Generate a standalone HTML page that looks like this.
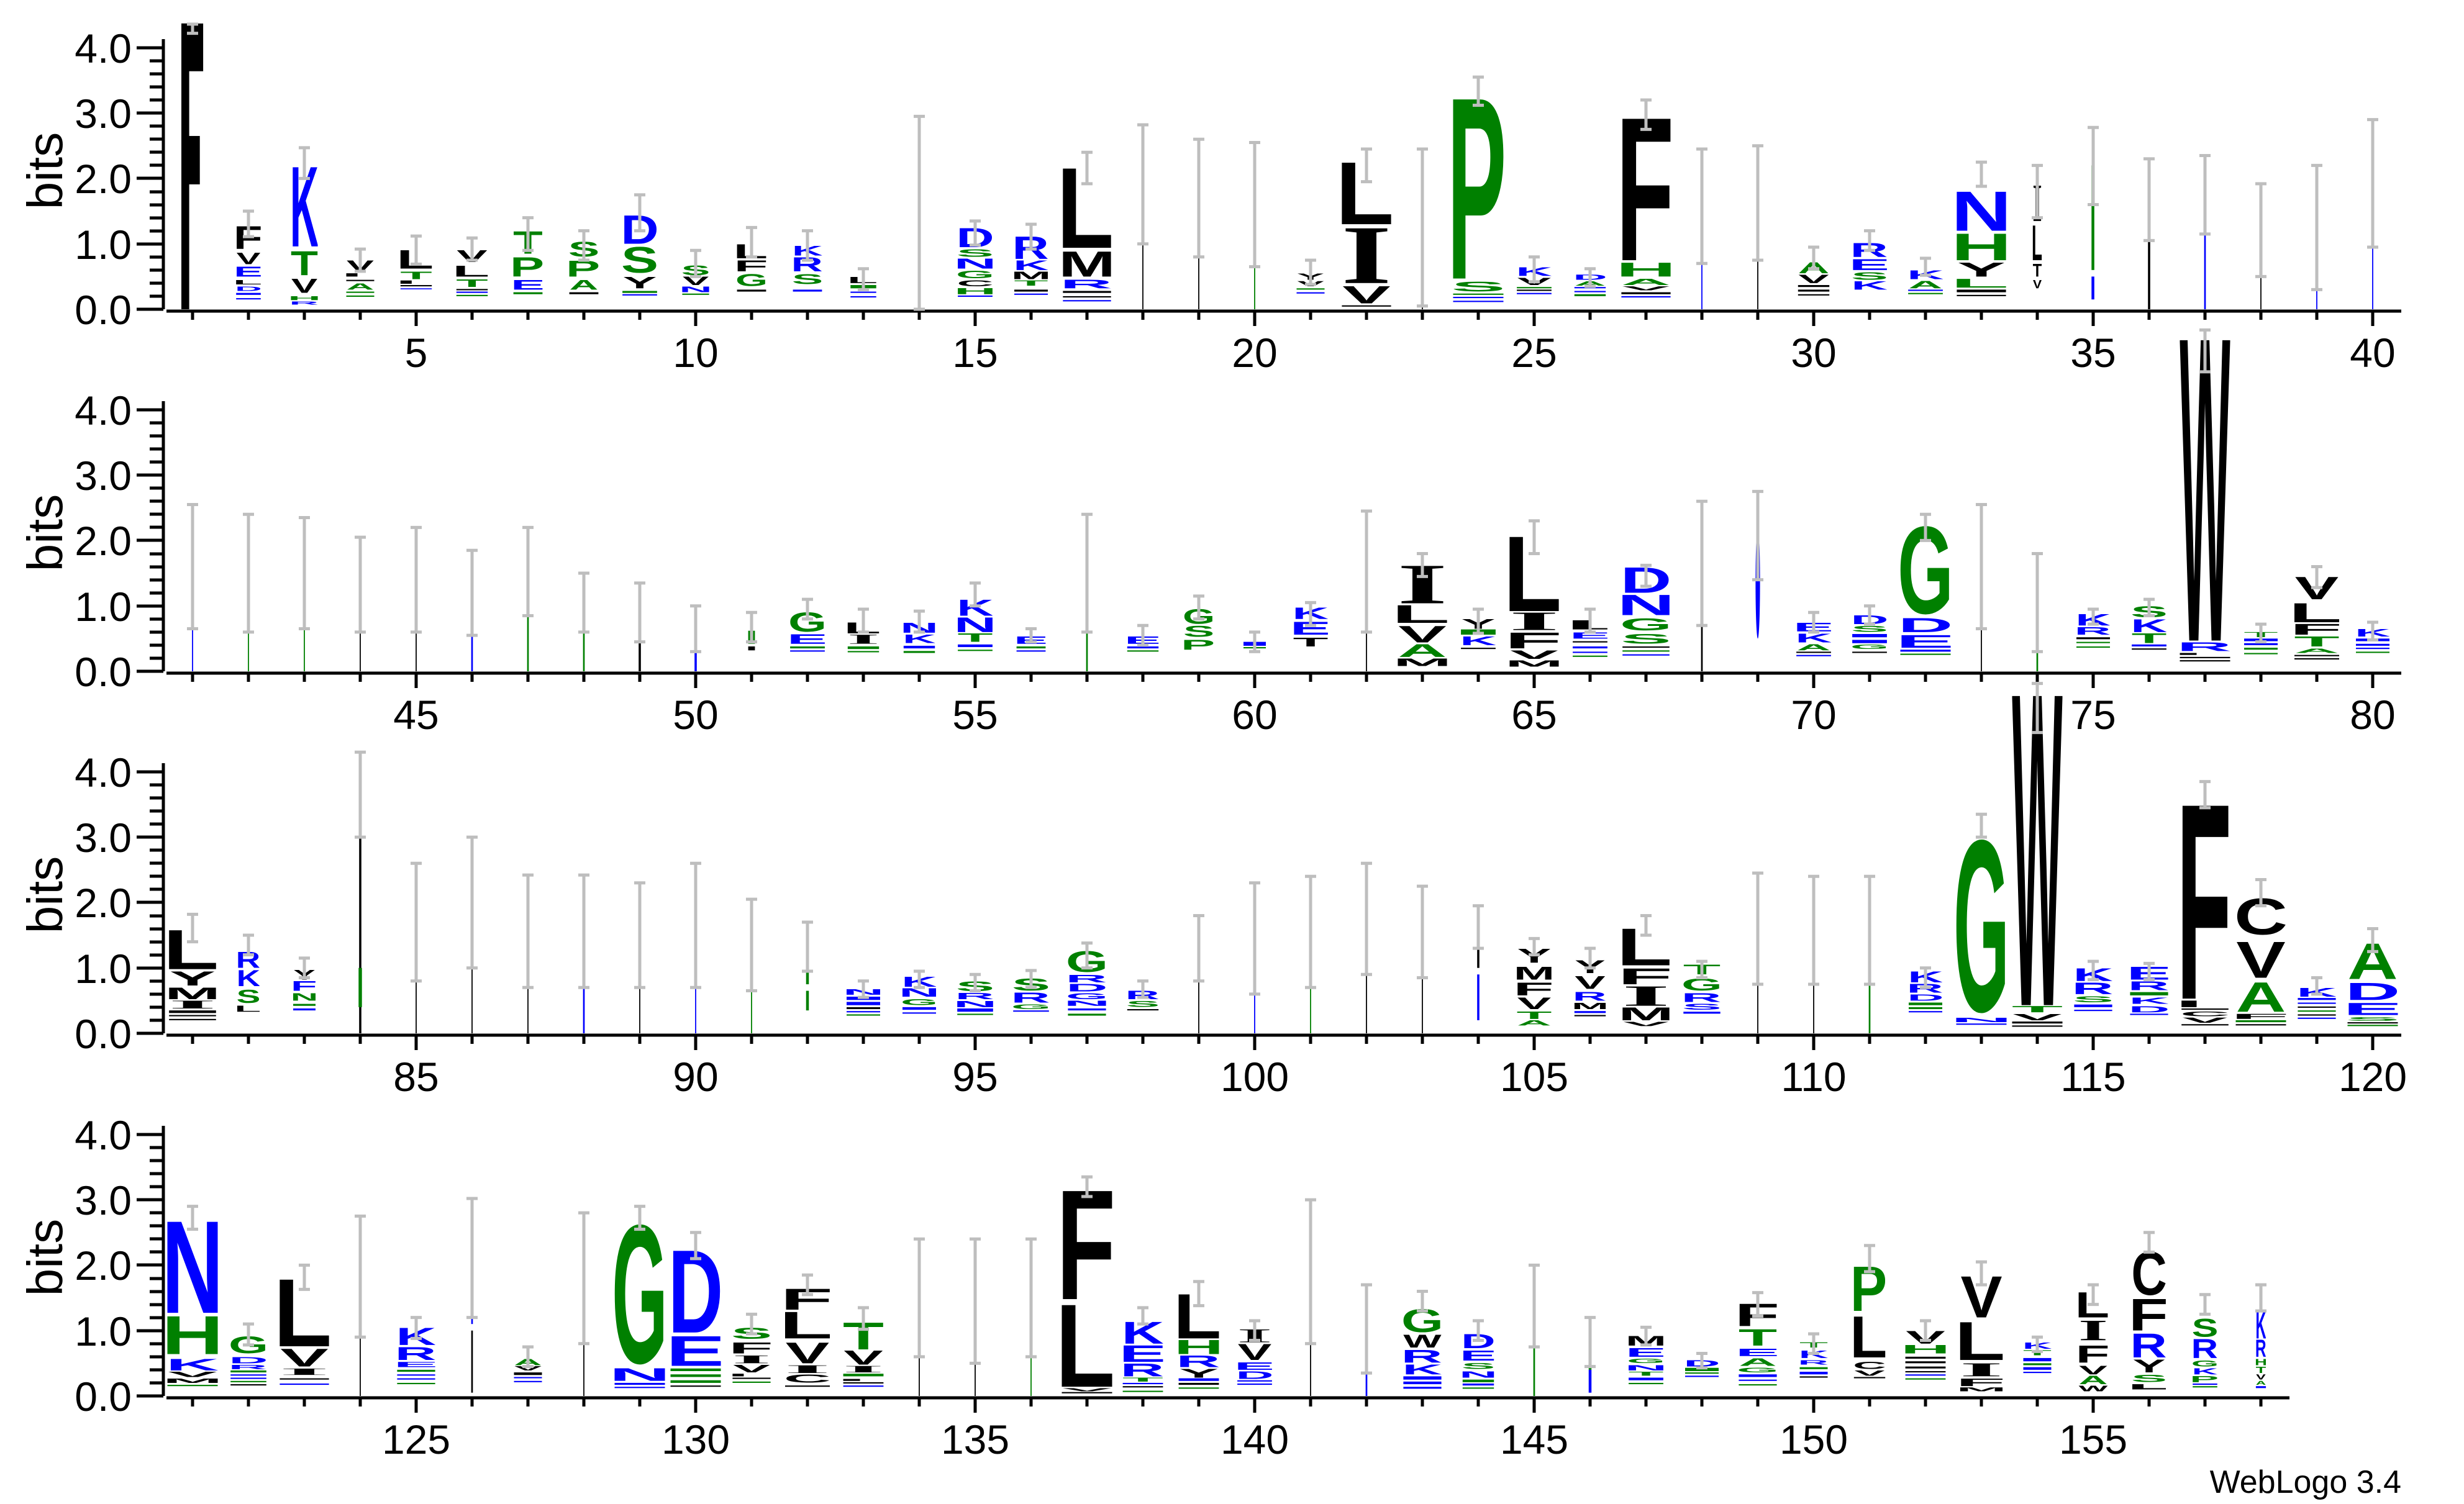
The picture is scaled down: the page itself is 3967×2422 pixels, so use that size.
<!DOCTYPE html>
<html><head><meta charset="utf-8"><style>
html,body{margin:0;padding:0;background:#fff}
svg text{font-family:"Liberation Sans",Arial,sans-serif;font-weight:bold;font-size:100px;text-anchor:middle}
.b{fill:#0000ff}.g{fill:#008000}.k{fill:#000}
text.s{font-family:"Liberation Serif",serif}
.e{stroke:#bebebe;stroke-width:5;fill:none;vector-effect:non-scaling-stroke}
.ax{stroke:#000;stroke-width:5;fill:none}
.tl{font-family:"Liberation Sans",Arial,sans-serif;font-weight:normal;font-size:66px;fill:#000}
</style></head><body>
<svg width="3967" height="2417" viewBox="0 0 3967 2417" xmlns="http://www.w3.org/2000/svg">
<rect width="3967" height="2417" fill="#fff"/>

<!-- ===== AXES ===== -->
<g class="ax">
<!-- row1 -->
<path d="M263 63V498M220 498H263M220 393H263M220 287H263M220 182H263M220 77H263M241 477H263M241 456H263M241 435H263M241 414H263M241 372H263M241 351H263M241 330H263M241 309H263M241 266H263M241 245H263M241 224H263M241 203H263M241 161H263M241 140H263M241 119H263M241 98H263"/>
<path d="M268 501H3866"/>
<!-- row2 -->
<path d="M263 646V1081M220 1081H263M220 976H263M220 870H263M220 765H263M220 660H263M241 1060H263M241 1039H263M241 1018H263M241 997H263M241 955H263M241 934H263M241 913H263M241 892H263M241 849H263M241 828H263M241 807H263M241 786H263M241 744H263M241 723H263M241 702H263M241 681H263"/>
<path d="M268 1084H3866"/>
<!-- row3 -->
<path d="M263 1229V1664M220 1664H263M220 1559H263M220 1453H263M220 1348H263M220 1243H263M241 1643H263M241 1622H263M241 1601H263M241 1580H263M241 1538H263M241 1517H263M241 1496H263M241 1475H263M241 1432H263M241 1411H263M241 1390H263M241 1369H263M241 1327H263M241 1306H263M241 1285H263M241 1264H263"/>
<path d="M268 1667H3866"/>
<!-- row4 -->
<path d="M263 1813V2248M220 2248H263M220 2143H263M220 2037H263M220 1932H263M220 1827H263M241 2227H263M241 2206H263M241 2185H263M241 2164H263M241 2122H263M241 2101H263M241 2080H263M241 2059H263M241 2016H263M241 1995H263M241 1974H263M241 1953H263M241 1911H263M241 1890H263M241 1869H263M241 1848H263"/>
<path d="M268 2251H3686"/>
</g>
<!-- x ticks -->
<g class="ax" style="stroke-width:5">
<path d="M310 501v14M400 501v14M490 501v14M580 501v14M670 501v24M760 501v14M850 501v14M940 501v14M1030 501v14M1120 501v24M1210 501v14M1300 501v14M1390 501v14M1480 501v14M1570 501v24M1660 501v14M1750 501v14M1840 501v14M1930 501v14M2020 501v24M2110 501v14M2200 501v14M2290 501v14M2380 501v14M2470 501v24M2560 501v14M2650 501v14M2740 501v14M2830 501v14M2920 501v24M3010 501v14M3100 501v14M3190 501v14M3280 501v14M3370 501v24M3460 501v14M3550 501v14M3640 501v14M3730 501v14M3820 501v24"/>
<path d="M310 1084v14M400 1084v14M490 1084v14M580 1084v14M670 1084v24M760 1084v14M850 1084v14M940 1084v14M1030 1084v14M1120 1084v24M1210 1084v14M1300 1084v14M1390 1084v14M1480 1084v14M1570 1084v24M1660 1084v14M1750 1084v14M1840 1084v14M1930 1084v14M2020 1084v24M2110 1084v14M2200 1084v14M2290 1084v14M2380 1084v14M2470 1084v24M2560 1084v14M2650 1084v14M2740 1084v14M2830 1084v14M2920 1084v24M3010 1084v14M3100 1084v14M3190 1084v14M3280 1084v14M3370 1084v24M3460 1084v14M3550 1084v14M3640 1084v14M3730 1084v14M3820 1084v24"/>
<path d="M310 1667v14M400 1667v14M490 1667v14M580 1667v14M670 1667v24M760 1667v14M850 1667v14M940 1667v14M1030 1667v14M1120 1667v24M1210 1667v14M1300 1667v14M1390 1667v14M1480 1667v14M1570 1667v24M1660 1667v14M1750 1667v14M1840 1667v14M1930 1667v14M2020 1667v24M2110 1667v14M2200 1667v14M2290 1667v14M2380 1667v14M2470 1667v24M2560 1667v14M2650 1667v14M2740 1667v14M2830 1667v14M2920 1667v24M3010 1667v14M3100 1667v14M3190 1667v14M3280 1667v14M3370 1667v24M3460 1667v14M3550 1667v14M3640 1667v14M3730 1667v14M3820 1667v24"/>
<path d="M310 2251v14M400 2251v14M490 2251v14M580 2251v14M670 2251v24M760 2251v14M850 2251v14M940 2251v14M1030 2251v14M1120 2251v24M1210 2251v14M1300 2251v14M1390 2251v14M1480 2251v14M1570 2251v24M1660 2251v14M1750 2251v14M1840 2251v14M1930 2251v14M2020 2251v24M2110 2251v14M2200 2251v14M2290 2251v14M2380 2251v14M2470 2251v24M2560 2251v14M2650 2251v14M2740 2251v14M2830 2251v14M2920 2251v24M3010 2251v14M3100 2251v14M3190 2251v14M3280 2251v14M3370 2251v24M3460 2251v14M3550 2251v14M3640 2251v14"/>
</g>

<!-- y labels -->
<g class="tl" style="text-anchor:end">
<text x="212" y="522" style="text-anchor:end;font-weight:normal;font-size:66px">0.0</text><text x="212" y="417" style="text-anchor:end;font-weight:normal;font-size:66px">1.0</text><text x="212" y="311" style="text-anchor:end;font-weight:normal;font-size:66px">2.0</text><text x="212" y="206" style="text-anchor:end;font-weight:normal;font-size:66px">3.0</text><text x="212" y="101" style="text-anchor:end;font-weight:normal;font-size:66px">4.0</text>
<text x="212" y="1105" style="text-anchor:end;font-weight:normal;font-size:66px">0.0</text><text x="212" y="1000" style="text-anchor:end;font-weight:normal;font-size:66px">1.0</text><text x="212" y="894" style="text-anchor:end;font-weight:normal;font-size:66px">2.0</text><text x="212" y="789" style="text-anchor:end;font-weight:normal;font-size:66px">3.0</text><text x="212" y="684" style="text-anchor:end;font-weight:normal;font-size:66px">4.0</text>
<text x="212" y="1688" style="text-anchor:end;font-weight:normal;font-size:66px">0.0</text><text x="212" y="1583" style="text-anchor:end;font-weight:normal;font-size:66px">1.0</text><text x="212" y="1477" style="text-anchor:end;font-weight:normal;font-size:66px">2.0</text><text x="212" y="1372" style="text-anchor:end;font-weight:normal;font-size:66px">3.0</text><text x="212" y="1267" style="text-anchor:end;font-weight:normal;font-size:66px">4.0</text>
<text x="212" y="2272" style="text-anchor:end;font-weight:normal;font-size:66px">0.0</text><text x="212" y="2167" style="text-anchor:end;font-weight:normal;font-size:66px">1.0</text><text x="212" y="2061" style="text-anchor:end;font-weight:normal;font-size:66px">2.0</text><text x="212" y="1956" style="text-anchor:end;font-weight:normal;font-size:66px">3.0</text><text x="212" y="1851" style="text-anchor:end;font-weight:normal;font-size:66px">4.0</text>
</g>
<!-- bits -->
<g style="font-weight:normal;font-size:80px">
<text transform="translate(100,275) rotate(-90)" style="font-weight:normal;font-size:80px">bits</text>
<text transform="translate(100,858) rotate(-90)" style="font-weight:normal;font-size:80px">bits</text>
<text transform="translate(100,1441) rotate(-90)" style="font-weight:normal;font-size:80px">bits</text>
<text transform="translate(100,2025) rotate(-90)" style="font-weight:normal;font-size:80px">bits</text>
</g>
<!-- x labels -->
<g style="font-weight:normal;font-size:66px">
<text x="670" y="591" style="font-weight:normal;font-size:66px">5</text><text x="1120" y="591" style="font-weight:normal;font-size:66px">10</text><text x="1570" y="591" style="font-weight:normal;font-size:66px">15</text><text x="2020" y="591" style="font-weight:normal;font-size:66px">20</text><text x="2470" y="591" style="font-weight:normal;font-size:66px">25</text><text x="2920" y="591" style="font-weight:normal;font-size:66px">30</text><text x="3370" y="591" style="font-weight:normal;font-size:66px">35</text><text x="3820" y="591" style="font-weight:normal;font-size:66px">40</text>
<text x="670" y="1174" style="font-weight:normal;font-size:66px">45</text><text x="1120" y="1174" style="font-weight:normal;font-size:66px">50</text><text x="1570" y="1174" style="font-weight:normal;font-size:66px">55</text><text x="2020" y="1174" style="font-weight:normal;font-size:66px">60</text><text x="2470" y="1174" style="font-weight:normal;font-size:66px">65</text><text x="2920" y="1174" style="font-weight:normal;font-size:66px">70</text><text x="3370" y="1174" style="font-weight:normal;font-size:66px">75</text><text x="3820" y="1174" style="font-weight:normal;font-size:66px">80</text>
<text x="670" y="1757" style="font-weight:normal;font-size:66px">85</text><text x="1120" y="1757" style="font-weight:normal;font-size:66px">90</text><text x="1570" y="1757" style="font-weight:normal;font-size:66px">95</text><text x="2020" y="1757" style="font-weight:normal;font-size:66px">100</text><text x="2470" y="1757" style="font-weight:normal;font-size:66px">105</text><text x="2920" y="1757" style="font-weight:normal;font-size:66px">110</text><text x="3370" y="1757" style="font-weight:normal;font-size:66px">115</text><text x="3820" y="1757" style="font-weight:normal;font-size:66px">120</text>
<text x="670" y="2341" style="font-weight:normal;font-size:66px">125</text><text x="1120" y="2341" style="font-weight:normal;font-size:66px">130</text><text x="1570" y="2341" style="font-weight:normal;font-size:66px">135</text><text x="2020" y="2341" style="font-weight:normal;font-size:66px">140</text><text x="2470" y="2341" style="font-weight:normal;font-size:66px">145</text><text x="2920" y="2341" style="font-weight:normal;font-size:66px">150</text><text x="3370" y="2341" style="font-weight:normal;font-size:66px">155</text>
</g>
<text x="3866" y="2404" style="text-anchor:end;font-weight:normal;font-size:52px">WebLogo 3.4</text>

<!-- ===== ROW 1 ===== -->
<g transform="translate(310,498) scale(90,105.3)">
<g transform="translate(0)"><rect class="k" x="-.2" y="-4.37" width=".39" height=".73"/><rect class="k" x="-.2" y="-2.65" width=".33" height=".74"/><rect class="k" x="-.2" y="-4.37" width=".14" height="4.37"/><path class="e" d="M-.1 -4.36H.1M0 -4.36V-4.22M-.1 -4.22H.1"/></g>
<g transform="translate(1)">
<svg x="-.22" y="-1.28" width=".44" height=".36" viewBox="-25 -71.6 52 71.6" preserveAspectRatio="none"><text class="k">F</text></svg>
<svg x="-.22" y="-.87" width=".44" height=".18" viewBox="-34 -71.6 68 71.6" preserveAspectRatio="none"><text class="k">V</text></svg>
<svg x="-.22" y="-.66" width=".44" height=".16" viewBox="-28 -71.6 56 71.6" preserveAspectRatio="none"><text class="b">E</text></svg>
<svg x="-.22" y="-.45" width=".44" height=".07" viewBox="-23 -71.6 50 71.6" preserveAspectRatio="none"><text class="k">L</text></svg>
<svg x="-.22" y="-.35" width=".44" height=".07" viewBox="-33 -71.6 66 71.6" preserveAspectRatio="none"><text class="b">D</text></svg>
<rect class="b" x="-.22" y="-.25" width=".44" height=".03"/><rect class="b" x="-.22" y="-.17" width=".44" height=".02"/>
<path class="e" d="M-.1 -1.5H.1M0 -1.5V-1.11M-.1 -1.11H.1"/></g>
<g transform="translate(2)">
<svg x="-.24" y="-2.22" width=".48" height="1.26" viewBox="-34 -71.6 68 71.6" preserveAspectRatio="none"><text class="b">K</text></svg>
<svg x="-.24" y="-.9" width=".48" height=".38" viewBox="-30 -71.6 60 71.6" preserveAspectRatio="none"><text class="g">T</text></svg>
<svg x="-.24" y="-.47" width=".48" height=".22" viewBox="-34 -71.6 68 71.6" preserveAspectRatio="none"><text class="k">V</text></svg>
<svg x="-.24" y="-.2" width=".48" height=".06" viewBox="-29 -71.6 58 71.6" preserveAspectRatio="none"><text class="g">H</text></svg>
<svg x="-.24" y="-.12" width=".48" height=".05" viewBox="-32 -71.6 66 71.6" preserveAspectRatio="none"><text class="b">R</text></svg>
<path class="e" d="M-.1 -2.47H.1M0 -2.47V-2.0M-.1 -2.0H.1"/></g>
<g transform="translate(3)">
<svg x="-.25" y="-.75" width=".5" height=".17" viewBox="-34 -71.6 68 71.6" preserveAspectRatio="none"><text class="k">V</text></svg>
<rect class="k" x="-.25" y="-.55" width=".2" height=".05"/><rect class="k" x="-.25" y="-.45" width=".5" height=".02"/>
<svg x="-.25" y="-.4" width=".5" height=".1" viewBox="-36 -71.6 72 71.6" preserveAspectRatio="none"><text class="g">A</text></svg>
<rect class="g" x="-.25" y="-.27" width=".5" height=".02"/><rect class="g" x="-.25" y="-.21" width=".5" height=".02"/>
<path class="e" d="M-.1 -.92H.1M0 -.92V-.58M-.1 -.58H.1"/></g>
<g transform="translate(4)">
<svg x="-.28" y="-.91" width=".56" height=".29" viewBox="-23 -71.6 50 71.6" preserveAspectRatio="none"><text class="k">L</text></svg>
<svg x="-.28" y="-.58" width=".56" height=".12" viewBox="-30 -71.6 60 71.6" preserveAspectRatio="none"><text class="g">T</text></svg>
<rect class="k" x="-.28" y="-.44" width=".2" height=".05"/><rect class="k" x="-.28" y="-.37" width=".56" height=".02"/><rect class="b" x="-.28" y="-.32" width=".56" height=".015"/>
<path class="e" d="M-.1 -1.12H.1M0 -1.12V-.69M-.1 -.69H.1"/></g>
<g transform="translate(5)">
<svg x="-.28" y="-.91" width=".56" height=".19" viewBox="-34 -71.6 68 71.6" preserveAspectRatio="none"><text class="k">V</text></svg>
<svg x="-.28" y="-.67" width=".56" height=".17" viewBox="-23 -71.6 50 71.6" preserveAspectRatio="none"><text class="k">L</text></svg>
<svg x="-.28" y="-.46" width=".56" height=".12" viewBox="-30 -71.6 60 71.6" preserveAspectRatio="none"><text class="g">T</text></svg>
<rect class="k" x="-.28" y="-.31" width=".56" height=".02"/><rect class="b" x="-.28" y="-.27" width=".56" height=".02"/><rect class="g" x="-.28" y="-.22" width=".56" height=".02"/>
<path class="e" d="M-.1 -1.09H.1M0 -1.09V-.75M-.1 -.75H.1"/></g>
<g transform="translate(6)">
<svg x="-.26" y="-1.2" width=".52" height=".35" viewBox="-30 -71.6 60 71.6" preserveAspectRatio="none"><text class="g">T</text></svg>
<svg x="-.26" y="-.8" width=".52" height=".3" viewBox="-26 -71.6 56 71.6" preserveAspectRatio="none"><text class="g">P</text></svg>
<svg x="-.26" y="-.45" width=".52" height=".15" viewBox="-28 -71.6 56 71.6" preserveAspectRatio="none"><text class="b">E</text></svg>
<rect class="g" x="-.26" y="-.26" width=".52" height=".03"/>
<path class="e" d="M-.1 -1.4H.1M0 -1.4V-.9M-.1 -.9H.1"/></g>
<g transform="translate(7)">
<svg x="-.26" y="-1.05" width=".52" height=".25" viewBox="-31 -74 62 76" preserveAspectRatio="none"><text class="g">S</text></svg>
<svg x="-.26" y="-.75" width=".52" height=".25" viewBox="-26 -71.6 56 71.6" preserveAspectRatio="none"><text class="g">P</text></svg>
<svg x="-.26" y="-.45" width=".52" height=".15" viewBox="-36 -71.6 72 71.6" preserveAspectRatio="none"><text class="g">A</text></svg>
<rect class="k" x="-.26" y="-.26" width=".52" height=".03"/>
<path class="e" d="M-.1 -1.2H.1M0 -1.2V-.75M-.1 -.75H.1"/></g>
<g transform="translate(8)">
<svg x="-.31" y="-1.45" width=".62" height=".45" viewBox="-33 -71.6 66 71.6" preserveAspectRatio="none"><text class="b">D</text></svg>
<svg x="-.31" y="-.98" width=".62" height=".43" viewBox="-31 -74 62 76" preserveAspectRatio="none"><text class="g">S</text></svg>
<svg x="-.31" y="-.5" width=".62" height=".18" viewBox="-34 -71.6 68 71.6" preserveAspectRatio="none"><text class="k">Y</text></svg>
<rect class="g" x="-.31" y="-.28" width=".62" height=".03"/><rect class="b" x="-.31" y="-.23" width=".62" height=".02"/>
<path class="e" d="M-.1 -1.75H.1M0 -1.75V-1.2M-.1 -1.2H.1"/></g>
<g transform="translate(9)">
<svg x="-.24" y="-.68" width=".48" height=".16" viewBox="-31 -74 62 76" preserveAspectRatio="none"><text class="g">S</text></svg>
<svg x="-.24" y="-.5" width=".48" height=".13" viewBox="-34 -71.6 68 71.6" preserveAspectRatio="none"><text class="k">V</text></svg>
<svg x="-.24" y="-.35" width=".48" height=".09" viewBox="-29 -71.6 58 71.6" preserveAspectRatio="none"><text class="b">N</text></svg>
<rect class="g" x="-.24" y="-.24" width=".48" height=".02"/>
<path class="e" d="M-.1 -.9H.1M0 -.9V-.5M-.1 -.5H.1"/></g>
<g transform="translate(10)">
<svg x="-.26" y="-1.0" width=".52" height=".22" viewBox="-23 -71.6 50 71.6" preserveAspectRatio="none"><text class="k">L</text></svg>
<svg x="-.26" y="-.75" width=".52" height=".17" viewBox="-25 -71.6 52 71.6" preserveAspectRatio="none"><text class="k">F</text></svg>
<svg x="-.26" y="-.55" width=".52" height=".2" viewBox="-35 -74 70 76" preserveAspectRatio="none"><text class="g">G</text></svg>
<rect class="k" x="-.26" y="-.3" width=".52" height=".03"/>
<path class="e" d="M-.1 -1.25H.1M0 -1.25V-.8M-.1 -.8H.1"/></g>
<g transform="translate(11)">
<svg x="-.26" y="-.97" width=".52" height=".15" viewBox="-34 -71.6 68 71.6" preserveAspectRatio="none"><text class="b">K</text></svg>
<svg x="-.26" y="-.8" width=".52" height=".22" viewBox="-32 -71.6 66 71.6" preserveAspectRatio="none"><text class="b">R</text></svg>
<svg x="-.26" y="-.55" width=".52" height=".17" viewBox="-31 -74 62 76" preserveAspectRatio="none"><text class="g">S</text></svg>
<rect class="b" x="-.26" y="-.3" width=".52" height=".03"/>
<path class="e" d="M-.1 -1.2H.1M0 -1.2V-.75M-.1 -.75H.1"/></g>
<g transform="translate(12)">
<svg x="-.23" y="-.5" width=".46" height=".1" viewBox="-23 -71.6 50 71.6" preserveAspectRatio="none"><text class="k">L</text></svg>
<rect class="g" x="-.23" y="-.37" width=".46" height=".05"/><rect class="b" x="-.23" y="-.27" width=".46" height=".02"/><rect class="b" x="-.23" y="-.2" width=".46" height=".02"/>
<path class="e" d="M-.1 -.62H.1M0 -.62V-.3M-.1 -.3H.1"/></g>
<g transform="translate(13)"><rect class="b" x="-.02" y="-1.45" width=".03" height="1.45"/><path class="e" d="M-.1 -2.95H.1M0 -2.95V0M-.1 0H.1"/></g>
<g transform="translate(14)">
<svg x="-.31" y="-1.25" width=".62" height=".3" viewBox="-33 -71.6 66 71.6" preserveAspectRatio="none"><text class="b">D</text></svg>
<svg x="-.31" y="-.93" width=".62" height=".13" viewBox="-31 -74 62 76" preserveAspectRatio="none"><text class="g">S</text></svg>
<svg x="-.31" y="-.78" width=".62" height=".16" viewBox="-29 -71.6 58 71.6" preserveAspectRatio="none"><text class="b">N</text></svg>
<svg x="-.31" y="-.6" width=".62" height=".13" viewBox="-35 -74 70 76" preserveAspectRatio="none"><text class="g">G</text></svg>
<svg x="-.31" y="-.45" width=".62" height=".1" viewBox="-34 -74 68 76" preserveAspectRatio="none"><text class="k">C</text></svg>
<svg x="-.31" y="-.33" width=".62" height=".1" viewBox="-29 -71.6 58 71.6" preserveAspectRatio="none"><text class="g">H</text></svg>
<rect class="b" x="-.31" y="-.21" width=".62" height=".02"/>
<path class="e" d="M-.1 -1.35H.1M0 -1.35V-.98M-.1 -.98H.1"/></g>
<g transform="translate(15)">
<svg x="-.3" y="-1.12" width=".6" height=".35" viewBox="-32 -71.6 66 71.6" preserveAspectRatio="none"><text class="b">R</text></svg>
<svg x="-.3" y="-.75" width=".6" height=".15" viewBox="-34 -71.6 68 71.6" preserveAspectRatio="none"><text class="b">K</text></svg>
<svg x="-.3" y="-.58" width=".6" height=".12" viewBox="-35 -71.6 70 71.6" preserveAspectRatio="none"><text class="k">M</text></svg>
<svg x="-.3" y="-.44" width=".6" height=".08" viewBox="-30 -71.6 60 71.6" preserveAspectRatio="none"><text class="g">T</text></svg>
<rect class="k" x="-.3" y="-.3" width=".6" height=".03"/><rect class="b" x="-.3" y="-.24" width=".6" height=".02"/>
<path class="e" d="M-.1 -1.3H.1M0 -1.3V-.92M-.1 -.92H.1"/></g>
<g transform="translate(16)">
<svg x="-.43" y="-2.2" width=".86" height="1.26" viewBox="-23 -71.6 50 71.6" preserveAspectRatio="none"><text class="k">L</text></svg>
<svg x="-.43" y="-.9" width=".86" height=".4" viewBox="-35 -71.6 70 71.6" preserveAspectRatio="none"><text class="k">M</text></svg>
<svg x="-.43" y="-.46" width=".86" height=".14" viewBox="-32 -71.6 66 71.6" preserveAspectRatio="none"><text class="b">R</text></svg>
<rect class="k" x="-.43" y="-.28" width=".86" height=".03"/><rect class="k" x="-.43" y="-.2" width=".86" height=".02"/><rect class="b" x="-.43" y="-.14" width=".86" height=".02"/>
<path class="e" d="M-.1 -2.4H.1M0 -2.4V-1.92M-.1 -1.92H.1"/></g>
<g transform="translate(17)"><rect class="k" x="-.01" y="-1.9" width=".02" height="1.9"/><path class="e" d="M-.1 -2.82H.1M0 -2.82V-1.0M-.1 -1.0H.1"/></g>
<g transform="translate(18)"><rect class="k" x="-.01" y="-1.7" width=".02" height="1.7"/><path class="e" d="M-.1 -2.6H.1M0 -2.6V-.8M-.1 -.8H.1"/></g>
<g transform="translate(19)"><rect class="g" x="-.01" y="-1.6" width=".02" height="1.6"/><path class="e" d="M-.1 -2.55H.1M0 -2.55V-.65M-.1 -.65H.1"/></g>
<g transform="translate(20)">
<svg x="-.25" y="-.55" width=".5" height=".1" viewBox="-34 -71.6 68 71.6" preserveAspectRatio="none"><text class="k">Y</text></svg>
<svg x="-.25" y="-.43" width=".5" height=".08" viewBox="-34 -71.6 68 71.6" preserveAspectRatio="none"><text class="k">V</text></svg>
<rect class="g" x="-.25" y="-.32" width=".5" height=".02"/><rect class="b" x="-.25" y="-.26" width=".5" height=".02"/>
<path class="e" d="M-.1 -.75H.1M0 -.75V-.38M-.1 -.38H.1"/></g>
<g transform="translate(21)">
<svg x="-.44" y="-2.28" width=".88" height=".98" viewBox="-23 -71.6 50 71.6" preserveAspectRatio="none"><text class="k">L</text></svg>
<svg x="-.44" y="-1.25" width=".88" height=".85" viewBox="-19 -66.5 38 66.5" preserveAspectRatio="none"><text class="k s">I</text></svg>
<svg x="-.44" y="-.36" width=".88" height=".27" viewBox="-34 -71.6 68 71.6" preserveAspectRatio="none"><text class="k">V</text></svg>
<rect class="k" x="-.44" y="-.06" width=".88" height=".02"/>
<path class="e" d="M-.1 -2.45H.1M0 -2.45V-1.95M-.1 -1.95H.1"/></g>
<g transform="translate(22)"><rect class="k" x="-.01" y="-1.2" width=".02" height="1.2"/><path class="e" d="M-.1 -2.45H.1M0 -2.45V-.05M-.1 -.05H.1"/></g>
<g transform="translate(23)">
<svg x="-.45" y="-3.32" width=".9" height="2.85" viewBox="-26 -71.6 56 71.6" preserveAspectRatio="none"><text class="g">P</text></svg>
<svg x="-.45" y="-.43" width=".9" height=".16" viewBox="-31 -74 62 76" preserveAspectRatio="none"><text class="g">S</text></svg>
<rect class="g" x="-.45" y="-.24" width=".9" height=".02"/><rect class="b" x="-.45" y="-.19" width=".9" height=".02"/><rect class="b" x="-.45" y="-.13" width=".9" height=".02"/>
<path class="e" d="M-.1 -3.55H.1M0 -3.55V-3.12M-.1 -3.12H.1"/></g>
<g transform="translate(24)">
<svg x="-.31" y="-.65" width=".62" height=".14" viewBox="-34 -71.6 68 71.6" preserveAspectRatio="none"><text class="b">K</text></svg>
<svg x="-.31" y="-.48" width=".62" height=".11" viewBox="-34 -71.6 68 71.6" preserveAspectRatio="none"><text class="k">V</text></svg>
<rect class="g" x="-.31" y="-.34" width=".62" height=".02"/><rect class="k" x="-.31" y="-.3" width=".62" height=".02"/><rect class="b" x="-.31" y="-.25" width=".62" height=".02"/>
<path class="e" d="M-.1 -.8H.1M0 -.8V-.42M-.1 -.42H.1"/></g>
<g transform="translate(25)">
<svg x="-.28" y="-.53" width=".56" height=".08" viewBox="-33 -71.6 66 71.6" preserveAspectRatio="none"><text class="b">D</text></svg>
<svg x="-.28" y="-.43" width=".56" height=".07" viewBox="-36 -71.6 72 71.6" preserveAspectRatio="none"><text class="g">A</text></svg>
<rect class="b" x="-.28" y="-.34" width=".56" height=".02"/><rect class="b" x="-.28" y="-.28" width=".56" height=".02"/><rect class="g" x="-.28" y="-.23" width=".56" height=".03"/>
<path class="e" d="M-.1 -.62H.1M0 -.62V-.35M-.1 -.35H.1"/></g>
<g transform="translate(26)">
<svg x="-.44" y="-3.0" width=".88" height="2.25" viewBox="-25 -71.6 52 71.6" preserveAspectRatio="none"><text class="k">F</text></svg>
<svg x="-.44" y="-.72" width=".88" height=".22" viewBox="-29 -71.6 58 71.6" preserveAspectRatio="none"><text class="g">H</text></svg>
<svg x="-.44" y="-.47" width=".88" height=".1" viewBox="-36 -71.6 72 71.6" preserveAspectRatio="none"><text class="g">A</text></svg>
<svg x="-.44" y="-.35" width=".88" height=".06" viewBox="-34 -71.6 68 71.6" preserveAspectRatio="none"><text class="k">V</text></svg>
<rect class="k" x="-.44" y="-.26" width=".88" height=".03"/><rect class="b" x="-.44" y="-.2" width=".88" height=".02"/>
<path class="e" d="M-.1 -3.2H.1M0 -3.2V-2.75M-.1 -2.75H.1"/></g>
<g transform="translate(27)"><rect class="b" x="-.01" y="-1.55" width=".02" height="1.55"/><path class="e" d="M-.1 -2.45H.1M0 -2.45V-.7M-.1 -.7H.1"/></g>
<g transform="translate(28)"><rect class="k" x="-.01" y="-1.65" width=".02" height="1.65"/><path class="e" d="M-.1 -2.5H.1M0 -2.5V-.75M-.1 -.75H.1"/></g>
<g transform="translate(29)">
<svg x="-.28" y="-.72" width=".56" height=".17" viewBox="-36 -71.6 72 71.6" preserveAspectRatio="none"><text class="g">A</text></svg>
<svg x="-.28" y="-.53" width=".56" height=".13" viewBox="-34 -71.6 68 71.6" preserveAspectRatio="none"><text class="k">V</text></svg>
<rect class="k" x="-.28" y="-.37" width=".56" height=".03"/><rect class="k" x="-.28" y="-.3" width=".56" height=".03"/><rect class="k" x="-.28" y="-.23" width=".56" height=".02"/>
<path class="e" d="M-.1 -.95H.1M0 -.95V-.62M-.1 -.62H.1"/></g>
<g transform="translate(30)">
<svg x="-.31" y="-1.02" width=".62" height=".22" viewBox="-32 -71.6 66 71.6" preserveAspectRatio="none"><text class="b">R</text></svg>
<svg x="-.31" y="-.77" width=".62" height=".17" viewBox="-28 -71.6 56 71.6" preserveAspectRatio="none"><text class="b">E</text></svg>
<svg x="-.31" y="-.58" width=".62" height=".13" viewBox="-31 -74 62 76" preserveAspectRatio="none"><text class="g">S</text></svg>
<svg x="-.31" y="-.43" width=".62" height=".13" viewBox="-34 -71.6 68 71.6" preserveAspectRatio="none"><text class="b">K</text></svg>
<path class="e" d="M-.1 -1.2H.1M0 -1.2V-.9M-.1 -.9H.1"/></g>
<g transform="translate(31)">
<svg x="-.31" y="-.6" width=".62" height=".14" viewBox="-34 -71.6 68 71.6" preserveAspectRatio="none"><text class="b">K</text></svg>
<svg x="-.31" y="-.44" width=".62" height=".12" viewBox="-36 -71.6 72 71.6" preserveAspectRatio="none"><text class="g">A</text></svg>
<rect class="b" x="-.31" y="-.3" width=".62" height=".02"/><rect class="g" x="-.31" y="-.25" width=".62" height=".02"/>
<path class="e" d="M-.1 -.78H.1M0 -.78V-.52M-.1 -.52H.1"/></g>
<g transform="translate(32)">
<svg x="-.44" y="-1.82" width=".88" height=".62" viewBox="-29 -71.6 58 71.6" preserveAspectRatio="none"><text class="b">N</text></svg>
<svg x="-.44" y="-1.17" width=".88" height=".42" viewBox="-29 -71.6 58 71.6" preserveAspectRatio="none"><text class="g">H</text></svg>
<svg x="-.44" y="-.72" width=".88" height=".22" viewBox="-34 -71.6 68 71.6" preserveAspectRatio="none"><text class="k">Y</text></svg>
<svg x="-.44" y="-.47" width=".88" height=".14" viewBox="-23 -71.6 50 71.6" preserveAspectRatio="none"><text class="g">L</text></svg>
<rect class="k" x="-.44" y="-.3" width=".88" height=".04"/><rect class="k" x="-.44" y="-.22" width=".88" height=".02"/>
<path class="e" d="M-.1 -2.25H.1M0 -2.25V-1.88M-.1 -1.88H.1"/></g>
<g transform="translate(33)">
<svg x="-.08" y="-1.9" width=".16" height=".55" viewBox="-19 -66.5 38 66.5" preserveAspectRatio="none"><text class="k s">I</text></svg>
<svg x="-.08" y="-1.3" width=".16" height=".55" viewBox="-23 -71.6 50 71.6" preserveAspectRatio="none"><text class="k">L</text></svg>
<svg x="-.08" y="-.7" width=".16" height=".2" viewBox="-30 -71.6 60 71.6" preserveAspectRatio="none"><text class="k">T</text></svg>
<svg x="-.08" y="-.45" width=".16" height=".13" viewBox="-34 -71.6 68 71.6" preserveAspectRatio="none"><text class="k">V</text></svg>
<path class="e" d="M-.1 -2.2H.1M0 -2.2V-1.4M-.1 -1.4H.1"/></g>
<g transform="translate(34)"><rect class="g" x="-.03" y="-2.2" width=".05" height="1.6"/><rect class="b" x="-.03" y="-.5" width=".05" height=".35"/><path class="e" d="M-.1 -2.78H.1M0 -2.78V-1.6M-.1 -1.6H.1"/></g>
<g transform="translate(35)"><rect class="k" x="-.02" y="-1.7" width=".04" height="1.7"/><path class="e" d="M-.1 -2.3H.1M0 -2.3V-1.05M-.1 -1.05H.1"/></g>
<g transform="translate(36)"><rect class="b" x="-.015" y="-1.75" width=".03" height="1.75"/><path class="e" d="M-.1 -2.35H.1M0 -2.35V-1.15M-.1 -1.15H.1"/></g>
<g transform="translate(37)"><rect class="k" x="-.01" y="-1.2" width=".02" height="1.2"/><path class="e" d="M-.1 -1.92H.1M0 -1.92V-.5M-.1 -.5H.1"/></g>
<g transform="translate(38)"><rect class="b" x="-.01" y="-1.0" width=".02" height="1.0"/><path class="e" d="M-.1 -2.2H.1M0 -2.2V-.3M-.1 -.3H.1"/></g>
<g transform="translate(39)"><rect class="b" x="-.01" y="-1.9" width=".02" height="1.9"/><path class="e" d="M-.1 -2.9H.1M0 -2.9V-.95M-.1 -.95H.1"/></g>
</g>

<!-- ===== ROW 2 ===== -->
<g transform="translate(310,1081) scale(90,105.3)">
<g transform="translate(0)"><rect class="b" x="-.01" y="-1.6" width=".02" height="1.6"/><path class="e" d="M-.1 -2.55H.1M0 -2.55V-.65M-.1 -.65H.1"/></g>
<g transform="translate(1)"><rect class="g" x="-.01" y="-1.5" width=".02" height="1.5"/><path class="e" d="M-.1 -2.4H.1M0 -2.4V-.6M-.1 -.6H.1"/></g>
<g transform="translate(2)"><rect class="g" x="-.01" y="-1.5" width=".02" height="1.5"/><path class="e" d="M-.1 -2.35H.1M0 -2.35V-.65M-.1 -.65H.1"/></g>
<g transform="translate(3)"><rect class="k" x="-.01" y="-1.3" width=".02" height="1.3"/><path class="e" d="M-.1 -2.05H.1M0 -2.05V-.6M-.1 -.6H.1"/></g>
<g transform="translate(4)"><rect class="k" x="-.01" y="-1.4" width=".02" height="1.4"/><path class="e" d="M-.1 -2.2H.1M0 -2.2V-.6M-.1 -.6H.1"/></g>
<g transform="translate(5)"><rect class="b" x="-.015" y="-1.2" width=".03" height="1.2"/><path class="e" d="M-.1 -1.85H.1M0 -1.85V-.55M-.1 -.55H.1"/></g>
<g transform="translate(6)"><rect class="g" x="-.015" y="-1.5" width=".03" height="1.5"/><path class="e" d="M-.1 -2.2H.1M0 -2.2V-.85M-.1 -.85H.1"/></g>
<g transform="translate(7)"><rect class="g" x="-.015" y="-1.05" width=".03" height="1.05"/><path class="e" d="M-.1 -1.5H.1M0 -1.5V-.6M-.1 -.6H.1"/></g>
<g transform="translate(8)"><rect class="k" x="-.02" y="-.9" width=".04" height=".9"/><path class="e" d="M-.1 -1.35H.1M0 -1.35V-.45M-.1 -.45H.1"/></g>
<g transform="translate(9)"><rect class="b" x="-.02" y="-.65" width=".04" height=".65"/><path class="e" d="M-.1 -1.0H.1M0 -1.0V-.3M-.1 -.3H.1"/></g>
<g transform="translate(10)"><rect class="g" x="-.06" y="-.62" width=".12" height=".2"/><rect class="k" x="-.06" y="-.38" width=".12" height=".06"/><path class="e" d="M-.1 -.9H.1M0 -.9V-.45M-.1 -.45H.1"/></g>
<g transform="translate(11)">
<svg x="-.31" y="-.92" width=".62" height=".32" viewBox="-35 -74 70 76" preserveAspectRatio="none"><text class="g">G</text></svg>
<svg x="-.31" y="-.57" width=".62" height=".15" viewBox="-28 -71.6 56 71.6" preserveAspectRatio="none"><text class="b">E</text></svg>
<rect class="g" x="-.31" y="-.38" width=".62" height=".03"/><rect class="b" x="-.31" y="-.32" width=".62" height=".02"/>
<path class="e" d="M-.1 -1.1H.1M0 -1.1V-.8M-.1 -.8H.1"/></g>
<g transform="translate(12)">
<svg x="-.28" y="-.75" width=".56" height=".17" viewBox="-23 -71.6 50 71.6" preserveAspectRatio="none"><text class="k">L</text></svg>
<svg x="-.28" y="-.56" width=".56" height=".14" viewBox="-19 -66.5 38 66.5" preserveAspectRatio="none"><text class="k s">I</text></svg>
<rect class="g" x="-.28" y="-.38" width=".56" height=".04"/><rect class="g" x="-.28" y="-.31" width=".56" height=".02"/>
<path class="e" d="M-.1 -.95H.1M0 -.95V-.6M-.1 -.6H.1"/></g>
<g transform="translate(13)">
<svg x="-.28" y="-.75" width=".56" height=".16" viewBox="-29 -71.6 58 71.6" preserveAspectRatio="none"><text class="b">N</text></svg>
<svg x="-.28" y="-.56" width=".56" height=".13" viewBox="-34 -71.6 68 71.6" preserveAspectRatio="none"><text class="b">K</text></svg>
<rect class="b" x="-.28" y="-.39" width=".56" height=".04"/><rect class="g" x="-.28" y="-.31" width=".56" height=".03"/>
<path class="e" d="M-.1 -.92H.1M0 -.92V-.6M-.1 -.6H.1"/></g>
<g transform="translate(14)">
<svg x="-.31" y="-1.1" width=".62" height=".25" viewBox="-34 -71.6 68 71.6" preserveAspectRatio="none"><text class="b">K</text></svg>
<svg x="-.31" y="-.83" width=".62" height=".23" viewBox="-29 -71.6 58 71.6" preserveAspectRatio="none"><text class="b">N</text></svg>
<svg x="-.31" y="-.58" width=".62" height=".13" viewBox="-30 -71.6 60 71.6" preserveAspectRatio="none"><text class="g">T</text></svg>
<rect class="b" x="-.31" y="-.41" width=".62" height=".04"/><rect class="g" x="-.31" y="-.33" width=".62" height=".02"/>
<path class="e" d="M-.1 -1.35H.1M0 -1.35V-1.0M-.1 -1.0H.1"/></g>
<g transform="translate(15)">
<svg x="-.26" y="-.54" width=".52" height=".12" viewBox="-28 -71.6 56 71.6" preserveAspectRatio="none"><text class="b">E</text></svg>
<rect class="g" x="-.26" y="-.38" width=".52" height=".03"/><rect class="b" x="-.26" y="-.32" width=".52" height=".02"/>
<path class="e" d="M-.1 -.65H.1M0 -.65V-.45M-.1 -.45H.1"/></g>
<g transform="translate(16)"><rect class="g" x="-.015" y="-1.5" width=".03" height="1.5"/><path class="e" d="M-.1 -2.4H.1M0 -2.4V-.6M-.1 -.6H.1"/></g>
<g transform="translate(17)">
<svg x="-.28" y="-.54" width=".56" height=".12" viewBox="-28 -71.6 56 71.6" preserveAspectRatio="none"><text class="b">E</text></svg>
<rect class="b" x="-.28" y="-.38" width=".56" height=".03"/><rect class="g" x="-.28" y="-.32" width=".56" height=".02"/>
<path class="e" d="M-.1 -.7H.1M0 -.7V-.4M-.1 -.4H.1"/></g>
<g transform="translate(18)">
<svg x="-.26" y="-.97" width=".52" height=".25" viewBox="-35 -74 70 76" preserveAspectRatio="none"><text class="g">G</text></svg>
<svg x="-.26" y="-.7" width=".52" height=".18" viewBox="-31 -74 62 76" preserveAspectRatio="none"><text class="g">S</text></svg>
<svg x="-.26" y="-.49" width=".52" height=".16" viewBox="-26 -71.6 56 71.6" preserveAspectRatio="none"><text class="g">P</text></svg>
<path class="e" d="M-.1 -1.15H.1M0 -1.15V-.8M-.1 -.8H.1"/></g>
<g transform="translate(19)">
<rect class="b" x="-.2" y="-.45" width=".4" height=".06"/><rect class="g" x="-.2" y="-.37" width=".4" height=".02"/>
<path class="e" d="M-.1 -.6H.1M0 -.6V-.3M-.1 -.3H.1"/></g>
<g transform="translate(20)">
<svg x="-.31" y="-.98" width=".62" height=".18" viewBox="-34 -71.6 68 71.6" preserveAspectRatio="none"><text class="b">K</text></svg>
<svg x="-.31" y="-.76" width=".62" height=".2" viewBox="-28 -71.6 56 71.6" preserveAspectRatio="none"><text class="b">E</text></svg>
<svg x="-.31" y="-.52" width=".62" height=".14" viewBox="-30 -71.6 60 71.6" preserveAspectRatio="none"><text class="k">T</text></svg>
<path class="e" d="M-.1 -1.05H.1M0 -1.05V-.7M-.1 -.7H.1"/></g>
<g transform="translate(21)"><rect class="k" x="-.01" y="-1.5" width=".02" height="1.5"/><path class="e" d="M-.1 -2.45H.1M0 -2.45V-.6M-.1 -.6H.1"/></g>
<g transform="translate(22)">
<svg x="-.44" y="-1.62" width=".88" height=".58" viewBox="-19 -66.5 38 66.5" preserveAspectRatio="none"><text class="k s">I</text></svg>
<svg x="-.44" y="-1.02" width=".88" height=".28" viewBox="-23 -71.6 50 71.6" preserveAspectRatio="none"><text class="k">L</text></svg>
<svg x="-.44" y="-.7" width=".88" height=".26" viewBox="-34 -71.6 68 71.6" preserveAspectRatio="none"><text class="k">V</text></svg>
<svg x="-.44" y="-.42" width=".88" height=".2" viewBox="-36 -71.6 72 71.6" preserveAspectRatio="none"><text class="g">A</text></svg>
<svg x="-.44" y="-.2" width=".88" height=".12" viewBox="-35 -71.6 70 71.6" preserveAspectRatio="none"><text class="k">M</text></svg>
<path class="e" d="M-.1 -1.8H.1M0 -1.8V-1.45M-.1 -1.45H.1"/></g>
<g transform="translate(23)">
<svg x="-.31" y="-.8" width=".62" height=".15" viewBox="-34 -71.6 68 71.6" preserveAspectRatio="none"><text class="k">Y</text></svg>
<rect class="g" x="-.31" y="-.64" width=".62" height=".08"/>
<svg x="-.31" y="-.54" width=".62" height=".14" viewBox="-34 -71.6 68 71.6" preserveAspectRatio="none"><text class="b">K</text></svg>
<rect class="k" x="-.31" y="-.36" width=".62" height=".02"/>
<path class="e" d="M-.1 -.95H.1M0 -.95V-.58M-.1 -.58H.1"/></g>
<g transform="translate(24)">
<svg x="-.44" y="-2.1" width=".88" height="1.18" viewBox="-23 -71.6 50 71.6" preserveAspectRatio="none"><text class="k">L</text></svg>
<svg x="-.44" y="-.9" width=".88" height=".27" viewBox="-19 -66.5 38 66.5" preserveAspectRatio="none"><text class="k s">I</text></svg>
<svg x="-.44" y="-.6" width=".88" height=".25" viewBox="-25 -71.6 52 71.6" preserveAspectRatio="none"><text class="k">F</text></svg>
<svg x="-.44" y="-.32" width=".88" height=".13" viewBox="-34 -71.6 68 71.6" preserveAspectRatio="none"><text class="k">V</text></svg>
<svg x="-.44" y="-.17" width=".88" height=".1" viewBox="-35 -71.6 70 71.6" preserveAspectRatio="none"><text class="k">M</text></svg>
<path class="e" d="M-.1 -2.3H.1M0 -2.3V-1.8M-.1 -1.8H.1"/></g>
<g transform="translate(25)">
<rect class="k" x="-.31" y="-.78" width=".3" height=".12"/><rect class="k" x="-.31" y="-.66" width=".62" height=".02"/>
<svg x="-.31" y="-.6" width=".62" height=".1" viewBox="-28 -71.6 56 71.6" preserveAspectRatio="none"><text class="b">E</text></svg>
<rect class="k" x="-.31" y="-.46" width=".62" height=".02"/><rect class="b" x="-.31" y="-.38" width=".62" height=".03"/><rect class="b" x="-.31" y="-.3" width=".62" height=".02"/><rect class="g" x="-.31" y="-.24" width=".62" height=".02"/>
<path class="e" d="M-.1 -.95H.1M0 -.95V-.6M-.1 -.6H.1"/></g>
<g transform="translate(26)">
<svg x="-.42" y="-1.6" width=".84" height=".4" viewBox="-33 -71.6 66 71.6" preserveAspectRatio="none"><text class="b">D</text></svg>
<svg x="-.42" y="-1.18" width=".84" height=".32" viewBox="-29 -71.6 58 71.6" preserveAspectRatio="none"><text class="b">N</text></svg>
<svg x="-.42" y="-.82" width=".84" height=".2" viewBox="-35 -74 70 76" preserveAspectRatio="none"><text class="g">G</text></svg>
<svg x="-.42" y="-.58" width=".84" height=".16" viewBox="-31 -74 62 76" preserveAspectRatio="none"><text class="g">S</text></svg>
<rect class="k" x="-.42" y="-.38" width=".84" height=".02"/><rect class="g" x="-.42" y="-.32" width=".84" height=".02"/><rect class="b" x="-.42" y="-.26" width=".84" height=".02"/>
<path class="e" d="M-.1 -1.62H.1M0 -1.62V-1.3M-.1 -1.3H.1"/></g>
<g transform="translate(27)"><rect class="k" x="-.015" y="-1.6" width=".03" height="1.6"/><path class="e" d="M-.1 -2.6H.1M0 -2.6V-.7M-.1 -.7H.1"/></g>
<g transform="translate(28)"><ellipse class="b" cx="0" cy="-1.35" rx=".04" ry=".85"/><path class="e" d="M-.1 -2.75H.1M0 -2.75V-1.4M-.1 -1.4H.1"/></g>
<g transform="translate(29)">
<svg x="-.31" y="-.75" width=".62" height=".14" viewBox="-28 -71.6 56 71.6" preserveAspectRatio="none"><text class="b">E</text></svg>
<svg x="-.31" y="-.58" width=".62" height=".14" viewBox="-34 -71.6 68 71.6" preserveAspectRatio="none"><text class="b">K</text></svg>
<svg x="-.31" y="-.42" width=".62" height=".1" viewBox="-36 -71.6 72 71.6" preserveAspectRatio="none"><text class="g">A</text></svg>
<rect class="k" x="-.31" y="-.3" width=".62" height=".02"/><rect class="b" x="-.31" y="-.25" width=".62" height=".02"/>
<path class="e" d="M-.1 -.9H.1M0 -.9V-.6M-.1 -.6H.1"/></g>
<g transform="translate(30)">
<svg x="-.31" y="-.86" width=".62" height=".14" viewBox="-33 -71.6 66 71.6" preserveAspectRatio="none"><text class="b">D</text></svg>
<svg x="-.31" y="-.7" width=".62" height=".1" viewBox="-31 -74 62 76" preserveAspectRatio="none"><text class="g">S</text></svg>
<rect class="b" x="-.31" y="-.57" width=".62" height=".05"/><rect class="b" x="-.31" y="-.48" width=".62" height=".05"/>
<svg x="-.31" y="-.41" width=".62" height=".07" viewBox="-35 -74 70 76" preserveAspectRatio="none"><text class="g">G</text></svg>
<rect class="k" x="-.31" y="-.3" width=".62" height=".02"/>
<path class="e" d="M-.1 -1.0H.1M0 -1.0V-.72M-.1 -.72H.1"/></g>
<g transform="translate(31)">
<svg x="-.45" y="-2.3" width=".9" height="1.45" viewBox="-35 -74 70 76" preserveAspectRatio="none"><text class="g">G</text></svg>
<svg x="-.45" y="-.82" width=".9" height=".22" viewBox="-33 -71.6 66 71.6" preserveAspectRatio="none"><text class="b">D</text></svg>
<svg x="-.45" y="-.56" width=".9" height=".2" viewBox="-28 -71.6 56 71.6" preserveAspectRatio="none"><text class="b">E</text></svg>
<rect class="b" x="-.45" y="-.33" width=".9" height=".03"/><rect class="g" x="-.45" y="-.27" width=".9" height=".02"/>
<path class="e" d="M-.1 -2.4H.1M0 -2.4V-2.0M-.1 -2.0H.1"/></g>
<g transform="translate(32)"><rect class="k" x="-.01" y="-1.6" width=".02" height="1.6"/><path class="e" d="M-.1 -2.55H.1M0 -2.55V-.65M-.1 -.65H.1"/></g>
<g transform="translate(33)"><rect class="g" x="-.015" y="-.9" width=".03" height=".9"/><path class="e" d="M-.1 -1.8H.1M0 -1.8V-.3M-.1 -.3H.1"/></g>
<g transform="translate(34)">
<svg x="-.3" y="-.88" width=".6" height=".18" viewBox="-34 -71.6 68 71.6" preserveAspectRatio="none"><text class="b">K</text></svg>
<svg x="-.3" y="-.68" width=".6" height=".12" viewBox="-32 -71.6 66 71.6" preserveAspectRatio="none"><text class="b">R</text></svg>
<rect class="k" x="-.3" y="-.52" width=".6" height=".03"/><rect class="g" x="-.3" y="-.45" width=".6" height=".02"/><rect class="g" x="-.3" y="-.38" width=".6" height=".02"/>
<path class="e" d="M-.1 -.95H.1M0 -.95V-.72M-.1 -.72H.1"/></g>
<g transform="translate(35)">
<svg x="-.31" y="-1.0" width=".62" height=".18" viewBox="-31 -74 62 76" preserveAspectRatio="none"><text class="g">S</text></svg>
<svg x="-.31" y="-.8" width=".62" height=".2" viewBox="-34 -71.6 68 71.6" preserveAspectRatio="none"><text class="b">K</text></svg>
<svg x="-.31" y="-.58" width=".62" height=".15" viewBox="-30 -71.6 60 71.6" preserveAspectRatio="none"><text class="g">T</text></svg>
<rect class="b" x="-.31" y="-.41" width=".62" height=".03"/><rect class="k" x="-.31" y="-.35" width=".62" height=".02"/>
<path class="e" d="M-.1 -1.1H.1M0 -1.1V-.85M-.1 -.85H.1"/></g>
<g transform="translate(36)">
<svg x="-.45" y="-5.25" width=".9" height="4.78" viewBox="-47 -71.6 94 71.6" preserveAspectRatio="none"><text class="k">W</text></svg>
<svg x="-.45" y="-.45" width=".9" height=".14" viewBox="-32 -71.6 66 71.6" preserveAspectRatio="none"><text class="b">R</text></svg>
<rect class="k" x="-.45" y="-.28" width=".3" height=".03"/><rect class="k" x="-.45" y="-.22" width=".9" height=".02"/><rect class="k" x="-.45" y="-.17" width=".9" height=".02"/>
<path class="e" d="M-.1 -5.22H.1M0 -5.22V-4.58M-.1 -4.58H.1"/></g>
<g transform="translate(37)">
<svg x="-.3" y="-.6" width=".6" height=".08" viewBox="-30 -71.6 60 71.6" preserveAspectRatio="none"><text class="g">T</text></svg>
<rect class="b" x="-.3" y="-.5" width=".6" height=".04"/><rect class="b" x="-.3" y="-.43" width=".6" height=".03"/><rect class="g" x="-.3" y="-.36" width=".6" height=".03"/><rect class="g" x="-.3" y="-.28" width=".6" height=".02"/>
<path class="e" d="M-.1 -.72H.1M0 -.72V-.45M-.1 -.45H.1"/></g>
<g transform="translate(38)">
<svg x="-.4" y="-1.45" width=".8" height=".35" viewBox="-34 -71.6 68 71.6" preserveAspectRatio="none"><text class="k">V</text></svg>
<svg x="-.4" y="-1.05" width=".8" height=".3" viewBox="-23 -71.6 50 71.6" preserveAspectRatio="none"><text class="k">L</text></svg>
<svg x="-.4" y="-.73" width=".8" height=".17" viewBox="-25 -71.6 52 71.6" preserveAspectRatio="none"><text class="k">F</text></svg>
<svg x="-.4" y="-.54" width=".8" height=".16" viewBox="-30 -71.6 60 71.6" preserveAspectRatio="none"><text class="g">T</text></svg>
<svg x="-.4" y="-.35" width=".8" height=".07" viewBox="-36 -71.6 72 71.6" preserveAspectRatio="none"><text class="g">A</text></svg>
<rect class="k" x="-.4" y="-.25" width=".8" height=".02"/><rect class="k" x="-.4" y="-.2" width=".8" height=".02"/>
<path class="e" d="M-.1 -1.6H.1M0 -1.6V-1.28M-.1 -1.28H.1"/></g>
<g transform="translate(39)">
<svg x="-.3" y="-.65" width=".6" height=".12" viewBox="-34 -71.6 68 71.6" preserveAspectRatio="none"><text class="b">K</text></svg>
<rect class="b" x="-.3" y="-.5" width=".6" height=".04"/><rect class="b" x="-.3" y="-.42" width=".6" height=".03"/><rect class="b" x="-.3" y="-.36" width=".6" height=".02"/><rect class="g" x="-.3" y="-.3" width=".6" height=".02"/>
<path class="e" d="M-.1 -.75H.1M0 -.75V-.48M-.1 -.48H.1"/></g>
</g>

<!-- ===== ROW 3 ===== -->
<g transform="translate(310,1664) scale(90,105.3)">
<g transform="translate(0)">
<svg x="-.42" y="-1.6" width=".84" height=".62" viewBox="-23 -71.6 50 71.6" preserveAspectRatio="none"><text class="k">L</text></svg>
<svg x="-.42" y="-.95" width=".84" height=".22" viewBox="-34 -71.6 68 71.6" preserveAspectRatio="none"><text class="k">Y</text></svg>
<svg x="-.42" y="-.7" width=".84" height=".18" viewBox="-35 -71.6 70 71.6" preserveAspectRatio="none"><text class="k">M</text></svg>
<svg x="-.42" y="-.5" width=".84" height=".12" viewBox="-19 -66.5 38 66.5" preserveAspectRatio="none"><text class="k s">I</text></svg>
<rect class="k" x="-.42" y="-.35" width=".84" height=".04"/><rect class="k" x="-.42" y="-.28" width=".84" height=".02"/><rect class="k" x="-.42" y="-.22" width=".84" height=".02"/>
<path class="e" d="M-.1 -1.82H.1M0 -1.82V-1.4M-.1 -1.4H.1"/></g>
<g transform="translate(1)">
<svg x="-.2" y="-1.25" width=".4" height=".25" viewBox="-32 -71.6 66 71.6" preserveAspectRatio="none"><text class="b">R</text></svg>
<svg x="-.2" y="-.97" width=".4" height=".25" viewBox="-34 -71.6 68 71.6" preserveAspectRatio="none"><text class="b">K</text></svg>
<svg x="-.2" y="-.68" width=".4" height=".22" viewBox="-31 -74 62 76" preserveAspectRatio="none"><text class="g">S</text></svg>
<svg x="-.2" y="-.43" width=".4" height=".1" viewBox="-23 -71.6 50 71.6" preserveAspectRatio="none"><text class="k">L</text></svg>
<path class="e" d="M-.1 -1.5H.1M0 -1.5V-1.2M-.1 -1.2H.1"/></g>
<g transform="translate(2)">
<svg x="-.2" y="-.97" width=".4" height=".15" viewBox="-34 -71.6 68 71.6" preserveAspectRatio="none"><text class="k">Y</text></svg>
<svg x="-.2" y="-.8" width=".4" height=".15" viewBox="-25 -71.6 52 71.6" preserveAspectRatio="none"><text class="b">F</text></svg>
<svg x="-.2" y="-.62" width=".4" height=".12" viewBox="-29 -71.6 58 71.6" preserveAspectRatio="none"><text class="g">N</text></svg>
<rect class="g" x="-.2" y="-.45" width=".4" height=".03"/><rect class="b" x="-.2" y="-.38" width=".4" height=".03"/>
<path class="e" d="M-.1 -1.15H.1M0 -1.15V-.85M-.1 -.85H.1"/></g>
<g transform="translate(3)"><rect class="k" x="-.02" y="-3.7" width=".04" height="3.7"/><rect class="g" x="-.03" y="-1.0" width=".06" height=".6"/><path class="e" d="M-.1 -4.3H.1M0 -4.3V-3.0M-.1 -3.0H.1"/></g>
<g transform="translate(4)"><rect class="k" x="-.01" y="-1.7" width=".02" height="1.7"/><path class="e" d="M-.1 -2.6H.1M0 -2.6V-.8M-.1 -.8H.1"/></g>
<g transform="translate(5)"><rect class="k" x="-.01" y="-2.0" width=".02" height="2.0"/><path class="e" d="M-.1 -3.0H.1M0 -3.0V-1.0M-.1 -1.0H.1"/></g>
<g transform="translate(6)"><rect class="k" x="-.01" y="-1.55" width=".02" height="1.55"/><path class="e" d="M-.1 -2.42H.1M0 -2.42V-.7M-.1 -.7H.1"/></g>
<g transform="translate(7)"><rect class="b" x="-.015" y="-1.55" width=".03" height="1.55"/><path class="e" d="M-.1 -2.42H.1M0 -2.42V-.7M-.1 -.7H.1"/></g>
<g transform="translate(8)"><rect class="k" x="-.01" y="-1.5" width=".02" height="1.5"/><path class="e" d="M-.1 -2.3H.1M0 -2.3V-.7M-.1 -.7H.1"/></g>
<g transform="translate(9)"><rect class="b" x="-.01" y="-1.65" width=".02" height="1.65"/><path class="e" d="M-.1 -2.6H.1M0 -2.6V-.7M-.1 -.7H.1"/></g>
<g transform="translate(10)"><rect class="g" x="-.01" y="-1.35" width=".02" height="1.35"/><path class="e" d="M-.1 -2.05H.1M0 -2.05V-.65M-.1 -.65H.1"/></g>
<g transform="translate(11)"><rect class="g" x="-.025" y="-1.15" width=".05" height=".4"/><rect class="g" x="-.025" y="-.65" width=".05" height=".3"/><path class="e" d="M-.1 -1.7H.1M0 -1.7V-.95M-.1 -.95H.1"/></g>
<g transform="translate(12)">
<svg x="-.3" y="-.68" width=".6" height=".09" viewBox="-29 -71.6 58 71.6" preserveAspectRatio="none"><text class="b">N</text></svg>
<rect class="b" x="-.3" y="-.56" width=".6" height=".05"/><rect class="b" x="-.3" y="-.48" width=".6" height=".05"/><rect class="k" x="-.3" y="-.4" width=".6" height=".03"/><rect class="b" x="-.3" y="-.34" width=".6" height=".02"/><rect class="g" x="-.3" y="-.29" width=".6" height=".02"/>
<path class="e" d="M-.1 -.8H.1M0 -.8V-.55M-.1 -.55H.1"/></g>
<g transform="translate(13)">
<svg x="-.3" y="-.87" width=".6" height=".16" viewBox="-34 -71.6 68 71.6" preserveAspectRatio="none"><text class="b">K</text></svg>
<svg x="-.3" y="-.69" width=".6" height=".13" viewBox="-29 -71.6 58 71.6" preserveAspectRatio="none"><text class="b">N</text></svg>
<svg x="-.3" y="-.53" width=".6" height=".1" viewBox="-35 -74 70 76" preserveAspectRatio="none"><text class="g">G</text></svg>
<rect class="b" x="-.3" y="-.4" width=".6" height=".04"/><rect class="b" x="-.3" y="-.32" width=".6" height=".02"/>
<path class="e" d="M-.1 -.95H.1M0 -.95V-.7M-.1 -.7H.1"/></g>
<g transform="translate(14)">
<svg x="-.32" y="-.8" width=".64" height=".16" viewBox="-31 -74 62 76" preserveAspectRatio="none"><text class="g">S</text></svg>
<svg x="-.32" y="-.62" width=".64" height=".1" viewBox="-32 -71.6 66 71.6" preserveAspectRatio="none"><text class="b">R</text></svg>
<svg x="-.32" y="-.5" width=".64" height=".1" viewBox="-29 -71.6 58 71.6" preserveAspectRatio="none"><text class="b">N</text></svg>
<rect class="b" x="-.32" y="-.38" width=".64" height=".05"/><rect class="g" x="-.32" y="-.3" width=".64" height=".02"/>
<path class="e" d="M-.1 -.9H.1M0 -.9V-.65M-.1 -.65H.1"/></g>
<g transform="translate(15)">
<svg x="-.32" y="-.85" width=".64" height=".2" viewBox="-31 -74 62 76" preserveAspectRatio="none"><text class="g">S</text></svg>
<svg x="-.32" y="-.63" width=".64" height=".16" viewBox="-32 -71.6 66 71.6" preserveAspectRatio="none"><text class="b">R</text></svg>
<svg x="-.32" y="-.45" width=".64" height=".08" viewBox="-35 -74 70 76" preserveAspectRatio="none"><text class="g">G</text></svg>
<rect class="b" x="-.32" y="-.35" width=".64" height=".02"/>
<path class="e" d="M-.1 -.96H.1M0 -.96V-.7M-.1 -.7H.1"/></g>
<g transform="translate(16)">
<svg x="-.34" y="-1.28" width=".68" height=".35" viewBox="-35 -74 70 76" preserveAspectRatio="none"><text class="g">G</text></svg>
<svg x="-.34" y="-.9" width=".68" height=".12" viewBox="-32 -71.6 66 71.6" preserveAspectRatio="none"><text class="b">R</text></svg>
<svg x="-.34" y="-.76" width=".68" height=".12" viewBox="-33 -71.6 66 71.6" preserveAspectRatio="none"><text class="b">D</text></svg>
<svg x="-.34" y="-.62" width=".68" height=".1" viewBox="-35 -74 70 76" preserveAspectRatio="none"><text class="b">G</text></svg>
<svg x="-.34" y="-.5" width=".68" height=".08" viewBox="-29 -71.6 58 71.6" preserveAspectRatio="none"><text class="b">N</text></svg>
<rect class="b" x="-.34" y="-.38" width=".68" height=".03"/><rect class="g" x="-.34" y="-.3" width=".68" height=".03"/>
<path class="e" d="M-.1 -1.38H.1M0 -1.38V-1.0M-.1 -1.0H.1"/></g>
<g transform="translate(17)">
<svg x="-.28" y="-.65" width=".56" height=".13" viewBox="-32 -71.6 66 71.6" preserveAspectRatio="none"><text class="b">R</text></svg>
<svg x="-.28" y="-.5" width=".56" height=".1" viewBox="-31 -74 62 76" preserveAspectRatio="none"><text class="g">S</text></svg>
<rect class="k" x="-.28" y="-.37" width=".56" height=".02"/>
<path class="e" d="M-.1 -.8H.1M0 -.8V-.55M-.1 -.55H.1"/></g>
<g transform="translate(18)"><rect class="k" x="-.01" y="-1.3" width=".02" height="1.3"/><path class="e" d="M-.1 -1.8H.1M0 -1.8V-.8M-.1 -.8H.1"/></g>
<g transform="translate(19)"><rect class="b" x="-.01" y="-1.5" width=".02" height="1.5"/><path class="e" d="M-.1 -2.3H.1M0 -2.3V-.6M-.1 -.6H.1"/></g>
<g transform="translate(20)"><rect class="g" x="-.01" y="-1.55" width=".02" height="1.55"/><path class="e" d="M-.1 -2.4H.1M0 -2.4V-.7M-.1 -.7H.1"/></g>
<g transform="translate(21)"><rect class="k" x="-.01" y="-1.75" width=".02" height="1.75"/><path class="e" d="M-.1 -2.6H.1M0 -2.6V-.9M-.1 -.9H.1"/></g>
<g transform="translate(22)"><rect class="k" x="-.01" y="-1.55" width=".02" height="1.55"/><path class="e" d="M-.1 -2.25H.1M0 -2.25V-.85M-.1 -.85H.1"/></g>
<g transform="translate(23)"><rect class="k" x="-.02" y="-1.6" width=".04" height=".6"/><rect class="b" x="-.02" y="-.9" width=".04" height=".7"/><path class="e" d="M-.1 -1.95H.1M0 -1.95V-1.3M-.1 -1.3H.1"/></g>
<g transform="translate(24)">
<svg x="-.31" y="-1.3" width=".62" height=".22" viewBox="-34 -71.6 68 71.6" preserveAspectRatio="none"><text class="k">Y</text></svg>
<svg x="-.31" y="-1.02" width=".62" height=".2" viewBox="-35 -71.6 70 71.6" preserveAspectRatio="none"><text class="k">M</text></svg>
<svg x="-.31" y="-.78" width=".62" height=".2" viewBox="-25 -71.6 52 71.6" preserveAspectRatio="none"><text class="k">F</text></svg>
<svg x="-.31" y="-.55" width=".62" height=".18" viewBox="-34 -71.6 68 71.6" preserveAspectRatio="none"><text class="k">V</text></svg>
<svg x="-.31" y="-.34" width=".62" height=".12" viewBox="-30 -71.6 60 71.6" preserveAspectRatio="none"><text class="g">T</text></svg>
<svg x="-.31" y="-.2" width=".62" height=".08" viewBox="-36 -71.6 72 71.6" preserveAspectRatio="none"><text class="g">A</text></svg>
<path class="e" d="M-.1 -1.45H.1M0 -1.45V-1.2M-.1 -1.2H.1"/></g>
<g transform="translate(25)">
<svg x="-.28" y="-1.12" width=".56" height=".2" viewBox="-34 -71.6 68 71.6" preserveAspectRatio="none"><text class="k">Y</text></svg>
<svg x="-.28" y="-.88" width=".56" height=".2" viewBox="-34 -71.6 68 71.6" preserveAspectRatio="none"><text class="k">V</text></svg>
<svg x="-.28" y="-.64" width=".56" height=".14" viewBox="-32 -71.6 66 71.6" preserveAspectRatio="none"><text class="b">R</text></svg>
<svg x="-.28" y="-.47" width=".56" height=".1" viewBox="-35 -71.6 70 71.6" preserveAspectRatio="none"><text class="k">M</text></svg>
<rect class="b" x="-.28" y="-.34" width=".56" height=".03"/><rect class="k" x="-.28" y="-.28" width=".56" height=".02"/>
<path class="e" d="M-.1 -1.3H.1M0 -1.3V-1.0M-.1 -1.0H.1"/></g>
<g transform="translate(26)">
<svg x="-.42" y="-1.62" width=".84" height=".58" viewBox="-23 -71.6 50 71.6" preserveAspectRatio="none"><text class="k">L</text></svg>
<svg x="-.42" y="-1.0" width=".84" height=".25" viewBox="-25 -71.6 52 71.6" preserveAspectRatio="none"><text class="k">F</text></svg>
<svg x="-.42" y="-.72" width=".84" height=".3" viewBox="-19 -66.5 38 66.5" preserveAspectRatio="none"><text class="k s">I</text></svg>
<svg x="-.42" y="-.4" width=".84" height=".2" viewBox="-35 -71.6 70 71.6" preserveAspectRatio="none"><text class="k">M</text></svg>
<svg x="-.42" y="-.18" width=".84" height=".07" viewBox="-34 -71.6 68 71.6" preserveAspectRatio="none"><text class="k">V</text></svg>
<path class="e" d="M-.1 -1.8H.1M0 -1.8V-1.5M-.1 -1.5H.1"/></g>
<g transform="translate(27)">
<svg x="-.33" y="-1.05" width=".66" height=".15" viewBox="-30 -71.6 60 71.6" preserveAspectRatio="none"><text class="g">T</text></svg>
<svg x="-.33" y="-.85" width=".66" height=".2" viewBox="-35 -74 70 76" preserveAspectRatio="none"><text class="g">G</text></svg>
<svg x="-.33" y="-.62" width=".66" height=".14" viewBox="-32 -71.6 66 71.6" preserveAspectRatio="none"><text class="b">R</text></svg>
<svg x="-.33" y="-.46" width=".66" height=".1" viewBox="-31 -74 62 76" preserveAspectRatio="none"><text class="b">S</text></svg>
<rect class="b" x="-.33" y="-.33" width=".66" height=".03"/>
<path class="e" d="M-.1 -1.1H.1M0 -1.1V-.85M-.1 -.85H.1"/></g>
<g transform="translate(28)"><rect class="k" x="-.01" y="-1.6" width=".02" height="1.6"/><path class="e" d="M-.1 -2.45H.1M0 -2.45V-.75M-.1 -.75H.1"/></g>
<g transform="translate(29)"><rect class="k" x="-.01" y="-1.6" width=".02" height="1.6"/><path class="e" d="M-.1 -2.4H.1M0 -2.4V-.75M-.1 -.75H.1"/></g>
<g transform="translate(30)"><rect class="g" x="-.015" y="-1.6" width=".03" height="1.6"/><path class="e" d="M-.1 -2.4H.1M0 -2.4V-.75M-.1 -.75H.1"/></g>
<g transform="translate(31)">
<svg x="-.3" y="-.95" width=".6" height=".17" viewBox="-34 -71.6 68 71.6" preserveAspectRatio="none"><text class="b">K</text></svg>
<svg x="-.3" y="-.76" width=".6" height=".14" viewBox="-32 -71.6 66 71.6" preserveAspectRatio="none"><text class="b">R</text></svg>
<svg x="-.3" y="-.6" width=".6" height=".1" viewBox="-33 -71.6 66 71.6" preserveAspectRatio="none"><text class="b">D</text></svg>
<rect class="g" x="-.3" y="-.47" width=".6" height=".04"/><rect class="g" x="-.3" y="-.4" width=".6" height=".03"/><rect class="b" x="-.3" y="-.34" width=".6" height=".02"/>
<path class="e" d="M-.1 -1.0H.1M0 -1.0V-.7M-.1 -.7H.1"/></g>
<g transform="translate(32)">
<svg x="-.45" y="-3.12" width=".9" height="2.85" viewBox="-35 -74 70 76" preserveAspectRatio="none"><text class="g">G</text></svg>
<svg x="-.45" y="-.24" width=".9" height=".07" viewBox="-29 -71.6 58 71.6" preserveAspectRatio="none"><text class="b">N</text></svg>
<rect class="b" x="-.45" y="-.15" width=".9" height=".02"/>
<path class="e" d="M-.1 -3.35H.1M0 -3.35V-3.0M-.1 -3.0H.1"/></g>
<g transform="translate(33)">
<svg x="-.45" y="-5.35" width=".9" height="4.92" viewBox="-47 -71.6 94 71.6" preserveAspectRatio="none"><text class="k">W</text></svg>
<svg x="-.45" y="-.42" width=".9" height=".1" viewBox="-30 -71.6 60 71.6" preserveAspectRatio="none"><text class="g">T</text></svg>
<svg x="-.45" y="-.3" width=".9" height=".1" viewBox="-34 -71.6 68 71.6" preserveAspectRatio="none"><text class="k">V</text></svg>
<rect class="k" x="-.45" y="-.18" width=".9" height=".03"/><rect class="k" x="-.45" y="-.12" width=".9" height=".02"/>
<path class="e" d="M-.1 -5.35H.1M0 -5.35V-4.6M-.1 -4.6H.1"/></g>
<g transform="translate(34)">
<svg x="-.34" y="-1.0" width=".68" height=".2" viewBox="-34 -71.6 68 71.6" preserveAspectRatio="none"><text class="b">K</text></svg>
<svg x="-.34" y="-.78" width=".68" height=".18" viewBox="-32 -71.6 66 71.6" preserveAspectRatio="none"><text class="b">R</text></svg>
<svg x="-.34" y="-.57" width=".68" height=".1" viewBox="-31 -74 62 76" preserveAspectRatio="none"><text class="g">S</text></svg>
<rect class="b" x="-.34" y="-.44" width=".68" height=".04"/><rect class="b" x="-.34" y="-.36" width=".68" height=".02"/>
<path class="e" d="M-.1 -1.1H.1M0 -1.1V-.82M-.1 -.82H.1"/></g>
<g transform="translate(35)">
<svg x="-.34" y="-1.02" width=".68" height=".2" viewBox="-28 -71.6 56 71.6" preserveAspectRatio="none"><text class="b">E</text></svg>
<svg x="-.34" y="-.8" width=".68" height=".14" viewBox="-32 -71.6 66 71.6" preserveAspectRatio="none"><text class="b">R</text></svg>
<rect class="g" x="-.34" y="-.63" width=".68" height=".05"/>
<svg x="-.34" y="-.55" width=".68" height=".1" viewBox="-34 -71.6 68 71.6" preserveAspectRatio="none"><text class="b">K</text></svg>
<svg x="-.34" y="-.42" width=".68" height=".1" viewBox="-33 -71.6 66 71.6" preserveAspectRatio="none"><text class="b">D</text></svg>
<rect class="b" x="-.34" y="-.3" width=".68" height=".02"/>
<path class="e" d="M-.1 -1.07H.1M0 -1.07V-.82M-.1 -.82H.1"/></g>
<g transform="translate(36)">
<svg x="-.42" y="-3.6" width=".84" height="3.07" viewBox="-25 -71.6 52 71.6" preserveAspectRatio="none"><text class="k">F</text></svg>
<rect class="k" x="-.42" y="-.5" width=".27" height=".1"/><rect class="k" x="-.42" y="-.38" width=".84" height=".02"/>
<svg x="-.42" y="-.34" width=".84" height=".08" viewBox="-34 -74 68 76" preserveAspectRatio="none"><text class="k">C</text></svg>
<svg x="-.42" y="-.24" width=".84" height=".08" viewBox="-34 -71.6 68 71.6" preserveAspectRatio="none"><text class="k">V</text></svg>
<rect class="k" x="-.42" y="-.14" width=".84" height=".02"/>
<path class="e" d="M-.1 -3.85H.1M0 -3.85V-3.45M-.1 -3.45H.1"/></g>
<g transform="translate(37)">
<svg x="-.45" y="-2.1" width=".9" height=".6" viewBox="-34 -74 68 76" preserveAspectRatio="none"><text class="k">C</text></svg>
<svg x="-.45" y="-1.42" width=".9" height=".57" viewBox="-34 -71.6 68 71.6" preserveAspectRatio="none"><text class="k">V</text></svg>
<svg x="-.45" y="-.8" width=".9" height=".47" viewBox="-36 -71.6 72 71.6" preserveAspectRatio="none"><text class="g">A</text></svg>
<svg x="-.45" y="-.3" width=".9" height=".08" viewBox="-25 -71.6 52 71.6" preserveAspectRatio="none"><text class="k">F</text></svg>
<rect class="g" x="-.45" y="-.2" width=".9" height=".03"/><rect class="k" x="-.45" y="-.14" width=".9" height=".02"/>
<path class="e" d="M-.1 -2.35H.1M0 -2.35V-1.95M-.1 -1.95H.1"/></g>
<g transform="translate(38)">
<svg x="-.34" y="-.7" width=".68" height=".14" viewBox="-34 -71.6 68 71.6" preserveAspectRatio="none"><text class="b">K</text></svg>
<rect class="b" x="-.34" y="-.54" width=".68" height=".03"/><rect class="b" x="-.34" y="-.47" width=".68" height=".02"/><rect class="k" x="-.34" y="-.41" width=".68" height=".02"/><rect class="g" x="-.34" y="-.35" width=".68" height=".02"/><rect class="k" x="-.34" y="-.29" width=".68" height=".02"/><rect class="b" x="-.34" y="-.24" width=".68" height=".02"/>
<path class="e" d="M-.1 -.85H.1M0 -.85V-.6M-.1 -.6H.1"/></g>
<g transform="translate(39)">
<svg x="-.45" y="-1.39" width=".9" height=".56" viewBox="-36 -71.6 72 71.6" preserveAspectRatio="none"><text class="g">A</text></svg>
<svg x="-.45" y="-.78" width=".9" height=".27" viewBox="-33 -71.6 66 71.6" preserveAspectRatio="none"><text class="b">D</text></svg>
<svg x="-.45" y="-.47" width=".9" height=".19" viewBox="-28 -71.6 56 71.6" preserveAspectRatio="none"><text class="b">E</text></svg>
<svg x="-.45" y="-.25" width=".9" height=".06" viewBox="-31 -74 62 76" preserveAspectRatio="none"><text class="g">S</text></svg>
<rect class="k" x="-.45" y="-.17" width=".9" height=".02"/><rect class="g" x="-.45" y="-.13" width=".9" height=".02"/>
<path class="e" d="M-.1 -1.6H.1M0 -1.6V-1.25M-.1 -1.25H.1"/></g>
</g>

<!-- ===== ROW 4 ===== -->
<g transform="translate(310,2248) scale(90,105.3)">
<g transform="translate(0)">
<svg x="-.45" y="-2.72" width=".9" height="1.45" viewBox="-29 -71.6 58 71.6" preserveAspectRatio="none"><text class="b">N</text></svg>
<svg x="-.45" y="-1.24" width=".9" height=".6" viewBox="-29 -71.6 58 71.6" preserveAspectRatio="none"><text class="g">H</text></svg>
<svg x="-.45" y="-.57" width=".9" height=".18" viewBox="-34 -71.6 68 71.6" preserveAspectRatio="none"><text class="b">K</text></svg>
<svg x="-.45" y="-.37" width=".9" height=".08" viewBox="-34 -71.6 68 71.6" preserveAspectRatio="none"><text class="k">V</text></svg>
<svg x="-.45" y="-.27" width=".9" height=".07" viewBox="-35 -71.6 70 71.6" preserveAspectRatio="none"><text class="k">M</text></svg>
<rect class="g" x="-.45" y="-.17" width=".9" height=".02"/>
<path class="e" d="M-.1 -2.9H.1M0 -2.9V-2.55M-.1 -2.55H.1"/></g>
<g transform="translate(1)">
<svg x="-.32" y="-.93" width=".64" height=".28" viewBox="-35 -74 70 76" preserveAspectRatio="none"><text class="g">G</text></svg>
<svg x="-.32" y="-.6" width=".64" height=".1" viewBox="-33 -71.6 66 71.6" preserveAspectRatio="none"><text class="b">D</text></svg>
<svg x="-.32" y="-.48" width=".64" height=".07" viewBox="-32 -71.6 66 71.6" preserveAspectRatio="none"><text class="b">R</text></svg>
<rect class="g" x="-.32" y="-.39" width=".64" height=".03"/><rect class="b" x="-.32" y="-.33" width=".64" height=".02"/><rect class="b" x="-.32" y="-.28" width=".64" height=".02"/><rect class="g" x="-.32" y="-.23" width=".64" height=".02"/><rect class="k" x="-.32" y="-.18" width=".64" height=".02"/>
<path class="e" d="M-.1 -1.1H.1M0 -1.1V-.78M-.1 -.78H.1"/></g>
<g transform="translate(2)">
<svg x="-.44" y="-1.82" width=".88" height="1.06" viewBox="-23 -71.6 50 71.6" preserveAspectRatio="none"><text class="k">L</text></svg>
<svg x="-.44" y="-.73" width=".88" height=".28" viewBox="-34 -71.6 68 71.6" preserveAspectRatio="none"><text class="k">V</text></svg>
<svg x="-.44" y="-.42" width=".88" height=".1" viewBox="-19 -66.5 38 66.5" preserveAspectRatio="none"><text class="k s">I</text></svg>
<rect class="k" x="-.44" y="-.27" width=".88" height=".02"/><rect class="b" x="-.44" y="-.19" width=".88" height=".02"/>
<path class="e" d="M-.1 -2.0H.1M0 -2.0V-1.63M-.1 -1.63H.1"/></g>
<g transform="translate(3)"><rect class="k" x="-.01" y="-1.8" width=".02" height="1.8"/><path class="e" d="M-.1 -2.75H.1M0 -2.75V-.9M-.1 -.9H.1"/></g>
<g transform="translate(4)">
<svg x="-.34" y="-1.05" width=".68" height=".27" viewBox="-34 -71.6 68 71.6" preserveAspectRatio="none"><text class="b">K</text></svg>
<svg x="-.34" y="-.75" width=".68" height=".2" viewBox="-32 -71.6 66 71.6" preserveAspectRatio="none"><text class="b">R</text></svg>
<svg x="-.34" y="-.52" width=".68" height=".08" viewBox="-28 -71.6 56 71.6" preserveAspectRatio="none"><text class="b">E</text></svg>
<rect class="g" x="-.34" y="-.4" width=".68" height=".03"/><rect class="b" x="-.34" y="-.33" width=".68" height=".02"/><rect class="b" x="-.34" y="-.27" width=".68" height=".02"/><rect class="g" x="-.34" y="-.2" width=".68" height=".02"/>
<path class="e" d="M-.1 -1.2H.1M0 -1.2V-.88M-.1 -.88H.1"/></g>
<g transform="translate(5)"><rect class="b" x="-.015" y="-2.1" width=".03" height="1.0"/><rect class="k" x="-.015" y="-1.0" width=".03" height=".95"/><path class="e" d="M-.1 -3.02H.1M0 -3.02V-1.2M-.1 -1.2H.1"/></g>
<g transform="translate(6)">
<svg x="-.25" y="-.57" width=".5" height=".1" viewBox="-36 -71.6 72 71.6" preserveAspectRatio="none"><text class="g">A</text></svg>
<svg x="-.25" y="-.46" width=".5" height=".07" viewBox="-34 -71.6 68 71.6" preserveAspectRatio="none"><text class="k">V</text></svg>
<rect class="k" x="-.25" y="-.36" width=".5" height=".04"/><rect class="b" x="-.25" y="-.29" width=".5" height=".02"/><rect class="b" x="-.25" y="-.23" width=".5" height=".02"/>
<path class="e" d="M-.1 -.75H.1M0 -.75V-.45M-.1 -.45H.1"/></g>
<g transform="translate(7)"><rect class="k" x="-.01" y="-1.75" width=".02" height="1.75"/><path class="e" d="M-.1 -2.8H.1M0 -2.8V-.8M-.1 -.8H.1"/></g>
<g transform="translate(8)">
<svg x="-.45" y="-2.75" width=".9" height="2.3" viewBox="-35 -74 70 76" preserveAspectRatio="none"><text class="g">G</text></svg>
<svg x="-.45" y="-.43" width=".9" height=".2" viewBox="-29 -71.6 58 71.6" preserveAspectRatio="none"><text class="b">N</text></svg>
<rect class="b" x="-.45" y="-.2" width=".9" height=".03"/><rect class="b" x="-.45" y="-.14" width=".9" height=".02"/>
<path class="e" d="M-.1 -2.9H.1M0 -2.9V-2.55M-.1 -2.55H.1"/></g>
<g transform="translate(9)">
<svg x="-.45" y="-2.27" width=".9" height="1.3" viewBox="-33 -71.6 66 71.6" preserveAspectRatio="none"><text class="b">D</text></svg>
<svg x="-.45" y="-.93" width=".9" height=".47" viewBox="-28 -71.6 56 71.6" preserveAspectRatio="none"><text class="b">E</text></svg>
<rect class="g" x="-.45" y="-.42" width=".9" height=".04"/><rect class="g" x="-.45" y="-.33" width=".9" height=".04"/><rect class="g" x="-.45" y="-.24" width=".9" height=".04"/><rect class="k" x="-.45" y="-.16" width=".9" height=".02"/>
<path class="e" d="M-.1 -2.5H.1M0 -2.5V-2.1M-.1 -2.1H.1"/></g>
<g transform="translate(10)">
<svg x="-.34" y="-1.05" width=".68" height=".18" viewBox="-31 -74 62 76" preserveAspectRatio="none"><text class="g">S</text></svg>
<svg x="-.34" y="-.82" width=".68" height=".17" viewBox="-25 -71.6 52 71.6" preserveAspectRatio="none"><text class="k">F</text></svg>
<svg x="-.34" y="-.62" width=".68" height=".12" viewBox="-19 -66.5 38 66.5" preserveAspectRatio="none"><text class="k s">I</text></svg>
<svg x="-.34" y="-.48" width=".68" height=".12" viewBox="-34 -71.6 68 71.6" preserveAspectRatio="none"><text class="k">V</text></svg>
<rect class="k" x="-.34" y="-.34" width=".2" height=".04"/><rect class="k" x="-.34" y="-.28" width=".68" height=".02"/><rect class="g" x="-.34" y="-.22" width=".68" height=".02"/>
<path class="e" d="M-.1 -1.25H.1M0 -1.25V-.95M-.1 -.95H.1"/></g>
<g transform="translate(11)">
<svg x="-.4" y="-1.65" width=".8" height=".33" viewBox="-25 -71.6 52 71.6" preserveAspectRatio="none"><text class="k">F</text></svg>
<svg x="-.4" y="-1.3" width=".8" height=".42" viewBox="-23 -71.6 50 71.6" preserveAspectRatio="none"><text class="k">L</text></svg>
<svg x="-.4" y="-.83" width=".8" height=".33" viewBox="-34 -71.6 68 71.6" preserveAspectRatio="none"><text class="k">V</text></svg>
<svg x="-.4" y="-.47" width=".8" height=".12" viewBox="-19 -66.5 38 66.5" preserveAspectRatio="none"><text class="k s">I</text></svg>
<svg x="-.4" y="-.33" width=".8" height=".13" viewBox="-34 -74 68 76" preserveAspectRatio="none"><text class="k">C</text></svg>
<rect class="k" x="-.4" y="-.16" width=".8" height=".02"/>
<path class="e" d="M-.1 -1.85H.1M0 -1.85V-1.55M-.1 -1.55H.1"/></g>
<g transform="translate(12)">
<svg x="-.36" y="-1.13" width=".72" height=".42" viewBox="-30 -71.6 60 71.6" preserveAspectRatio="none"><text class="g">T</text></svg>
<svg x="-.36" y="-.7" width=".72" height=".22" viewBox="-34 -71.6 68 71.6" preserveAspectRatio="none"><text class="k">V</text></svg>
<svg x="-.36" y="-.46" width=".72" height=".1" viewBox="-19 -66.5 38 66.5" preserveAspectRatio="none"><text class="k s">I</text></svg>
<rect class="g" x="-.36" y="-.34" width=".72" height=".04"/><rect class="k" x="-.36" y="-.26" width=".3" height=".03"/><rect class="k" x="-.36" y="-.21" width=".72" height=".02"/><rect class="b" x="-.36" y="-.16" width=".72" height=".02"/>
<path class="e" d="M-.1 -1.35H.1M0 -1.35V-1.02M-.1 -1.02H.1"/></g>
<g transform="translate(13)"><rect class="k" x="-.01" y="-1.5" width=".02" height="1.5"/><path class="e" d="M-.1 -2.4H.1M0 -2.4V-.6M-.1 -.6H.1"/></g>
<g transform="translate(14)"><rect class="k" x="-.01" y="-1.45" width=".02" height="1.45"/><path class="e" d="M-.1 -2.4H.1M0 -2.4V-.5M-.1 -.5H.1"/></g>
<g transform="translate(15)"><rect class="g" x="-.01" y="-1.5" width=".02" height="1.5"/><path class="e" d="M-.1 -2.4H.1M0 -2.4V-.6M-.1 -.6H.1"/></g>
<g transform="translate(16)">
<svg x="-.45" y="-3.2" width=".9" height="1.72" viewBox="-25 -71.6 52 71.6" preserveAspectRatio="none"><text class="k">F</text></svg>
<svg x="-.45" y="-1.44" width=".9" height="1.3" viewBox="-23 -71.6 50 71.6" preserveAspectRatio="none"><text class="k">L</text></svg>
<svg x="-.45" y="-.12" width=".9" height=".05" viewBox="-34 -71.6 68 71.6" preserveAspectRatio="none"><text class="k">V</text></svg>
<rect class="k" x="-.45" y="-.06" width=".9" height=".02"/>
<path class="e" d="M-.1 -3.35H.1M0 -3.35V-3.05M-.1 -3.05H.1"/></g>
<g transform="translate(17)">
<svg x="-.36" y="-1.15" width=".72" height=".35" viewBox="-34 -71.6 68 71.6" preserveAspectRatio="none"><text class="b">K</text></svg>
<svg x="-.36" y="-.78" width=".72" height=".26" viewBox="-28 -71.6 56 71.6" preserveAspectRatio="none"><text class="b">E</text></svg>
<svg x="-.36" y="-.5" width=".72" height=".2" viewBox="-32 -71.6 66 71.6" preserveAspectRatio="none"><text class="b">R</text></svg>
<svg x="-.36" y="-.28" width=".72" height=".06" viewBox="-30 -71.6 60 71.6" preserveAspectRatio="none"><text class="g">T</text></svg>
<rect class="b" x="-.36" y="-.2" width=".72" height=".02"/><rect class="k" x="-.36" y="-.15" width=".72" height=".02"/><rect class="g" x="-.36" y="-.08" width=".72" height=".02"/>
<path class="e" d="M-.1 -1.35H.1M0 -1.35V-1.1M-.1 -1.1H.1"/></g>
<g transform="translate(18)">
<svg x="-.36" y="-1.58" width=".72" height=".7" viewBox="-23 -71.6 50 71.6" preserveAspectRatio="none"><text class="k">L</text></svg>
<svg x="-.36" y="-.86" width=".72" height=".22" viewBox="-29 -71.6 58 71.6" preserveAspectRatio="none"><text class="g">H</text></svg>
<svg x="-.36" y="-.62" width=".72" height=".18" viewBox="-32 -71.6 66 71.6" preserveAspectRatio="none"><text class="b">R</text></svg>
<svg x="-.36" y="-.42" width=".72" height=".14" viewBox="-34 -71.6 68 71.6" preserveAspectRatio="none"><text class="k">Y</text></svg>
<rect class="b" x="-.36" y="-.27" width=".72" height=".04"/><rect class="k" x="-.36" y="-.2" width=".72" height=".03"/><rect class="g" x="-.36" y="-.13" width=".72" height=".02"/>
<path class="e" d="M-.1 -1.75H.1M0 -1.75V-1.38M-.1 -1.38H.1"/></g>
<g transform="translate(19)">
<svg x="-.31" y="-1.02" width=".62" height=".2" viewBox="-19 -66.5 38 66.5" preserveAspectRatio="none"><text class="k s">I</text></svg>
<svg x="-.31" y="-.8" width=".62" height=".25" viewBox="-34 -71.6 68 71.6" preserveAspectRatio="none"><text class="k">V</text></svg>
<svg x="-.31" y="-.52" width=".62" height=".12" viewBox="-28 -71.6 56 71.6" preserveAspectRatio="none"><text class="b">E</text></svg>
<svg x="-.31" y="-.38" width=".62" height=".12" viewBox="-33 -71.6 66 71.6" preserveAspectRatio="none"><text class="b">D</text></svg>
<rect class="b" x="-.31" y="-.24" width=".62" height=".02"/><rect class="b" x="-.31" y="-.19" width=".62" height=".02"/>
<path class="e" d="M-.1 -1.15H.1M0 -1.15V-.85M-.1 -.85H.1"/></g>
<g transform="translate(20)"><rect class="k" x="-.01" y="-1.9" width=".02" height="1.9"/><path class="e" d="M-.1 -3.0H.1M0 -3.0V-.8M-.1 -.8H.1"/></g>
<g transform="translate(21)"><rect class="b" x="-.015" y="-.8" width=".03" height=".8"/><path class="e" d="M-.1 -1.7H.1M0 -1.7V-.35M-.1 -.35H.1"/></g>
<g transform="translate(22)">
<svg x="-.34" y="-1.35" width=".68" height=".38" viewBox="-35 -74 70 76" preserveAspectRatio="none"><text class="g">G</text></svg>
<svg x="-.34" y="-.94" width=".68" height=".2" viewBox="-47 -71.6 94 71.6" preserveAspectRatio="none"><text class="k">W</text></svg>
<svg x="-.34" y="-.71" width=".68" height=".2" viewBox="-32 -71.6 66 71.6" preserveAspectRatio="none"><text class="b">R</text></svg>
<svg x="-.34" y="-.49" width=".68" height=".16" viewBox="-34 -71.6 68 71.6" preserveAspectRatio="none"><text class="b">K</text></svg>
<rect class="b" x="-.34" y="-.3" width=".68" height=".05"/><rect class="b" x="-.34" y="-.22" width=".68" height=".04"/><rect class="b" x="-.34" y="-.14" width=".68" height=".03"/>
<path class="e" d="M-.1 -1.6H.1M0 -1.6V-1.3M-.1 -1.3H.1"/></g>
<g transform="translate(23)">
<svg x="-.28" y="-.95" width=".56" height=".22" viewBox="-33 -71.6 66 71.6" preserveAspectRatio="none"><text class="b">D</text></svg>
<svg x="-.28" y="-.7" width=".56" height=".16" viewBox="-28 -71.6 56 71.6" preserveAspectRatio="none"><text class="b">E</text></svg>
<svg x="-.28" y="-.51" width=".56" height=".1" viewBox="-31 -74 62 76" preserveAspectRatio="none"><text class="g">S</text></svg>
<svg x="-.28" y="-.38" width=".56" height=".1" viewBox="-29 -71.6 58 71.6" preserveAspectRatio="none"><text class="b">N</text></svg>
<rect class="g" x="-.28" y="-.25" width=".56" height=".04"/><rect class="b" x="-.28" y="-.19" width=".56" height=".03"/><rect class="g" x="-.28" y="-.13" width=".56" height=".02"/>
<path class="e" d="M-.1 -1.15H.1M0 -1.15V-.85M-.1 -.85H.1"/></g>
<g transform="translate(24)"><rect class="g" x="-.015" y="-1.3" width=".03" height="1.3"/><path class="e" d="M-.1 -2.0H.1M0 -2.0V-.75M-.1 -.75H.1"/></g>
<g transform="translate(25)"><rect class="g" x="-.025" y="-.9" width=".05" height=".5"/><rect class="b" x="-.025" y="-.4" width=".05" height=".35"/><path class="e" d="M-.1 -1.2H.1M0 -1.2V-.45M-.1 -.45H.1"/></g>
<g transform="translate(26)">
<svg x="-.31" y="-.92" width=".62" height=".15" viewBox="-35 -71.6 70 71.6" preserveAspectRatio="none"><text class="k">M</text></svg>
<svg x="-.31" y="-.74" width=".62" height=".14" viewBox="-28 -71.6 56 71.6" preserveAspectRatio="none"><text class="b">E</text></svg>
<svg x="-.31" y="-.57" width=".62" height=".07" viewBox="-35 -74 70 76" preserveAspectRatio="none"><text class="g">G</text></svg>
<svg x="-.31" y="-.47" width=".62" height=".08" viewBox="-29 -71.6 58 71.6" preserveAspectRatio="none"><text class="b">N</text></svg>
<svg x="-.31" y="-.37" width=".62" height=".06" viewBox="-30 -71.6 60 71.6" preserveAspectRatio="none"><text class="g">T</text></svg>
<rect class="b" x="-.31" y="-.28" width=".62" height=".04"/><rect class="g" x="-.31" y="-.2" width=".62" height=".02"/>
<path class="e" d="M-.1 -1.05H.1M0 -1.05V-.78M-.1 -.78H.1"/></g>
<g transform="translate(27)">
<svg x="-.3" y="-.55" width=".6" height=".1" viewBox="-33 -71.6 66 71.6" preserveAspectRatio="none"><text class="b">D</text></svg>
<rect class="g" x="-.3" y="-.43" width=".6" height=".05"/><rect class="g" x="-.3" y="-.36" width=".6" height=".02"/><rect class="b" x="-.3" y="-.31" width=".6" height=".02"/>
<path class="e" d="M-.1 -.65H.1M0 -.65V-.43M-.1 -.43H.1"/></g>
<g transform="translate(28)">
<svg x="-.34" y="-1.42" width=".68" height=".35" viewBox="-25 -71.6 52 71.6" preserveAspectRatio="none"><text class="k">F</text></svg>
<svg x="-.34" y="-1.03" width=".68" height=".26" viewBox="-30 -71.6 60 71.6" preserveAspectRatio="none"><text class="g">T</text></svg>
<svg x="-.34" y="-.73" width=".68" height=".12" viewBox="-28 -71.6 56 71.6" preserveAspectRatio="none"><text class="b">E</text></svg>
<svg x="-.34" y="-.58" width=".68" height=".12" viewBox="-36 -71.6 72 71.6" preserveAspectRatio="none"><text class="g">A</text></svg>
<svg x="-.34" y="-.44" width=".68" height=".08" viewBox="-35 -74 70 76" preserveAspectRatio="none"><text class="g">G</text></svg>
<rect class="b" x="-.34" y="-.33" width=".68" height=".04"/><rect class="b" x="-.34" y="-.25" width=".68" height=".02"/><rect class="g" x="-.34" y="-.18" width=".68" height=".02"/>
<path class="e" d="M-.1 -1.58H.1M0 -1.58V-1.22M-.1 -1.22H.1"/></g>
<g transform="translate(29)">
<svg x="-.25" y="-.82" width=".5" height=".08" viewBox="-30 -71.6 60 71.6" preserveAspectRatio="none"><text class="g">T</text></svg>
<svg x="-.25" y="-.7" width=".5" height=".12" viewBox="-34 -71.6 68 71.6" preserveAspectRatio="none"><text class="b">K</text></svg>
<svg x="-.25" y="-.55" width=".5" height=".07" viewBox="-32 -71.6 66 71.6" preserveAspectRatio="none"><text class="b">R</text></svg>
<rect class="g" x="-.25" y="-.44" width=".5" height=".03"/><rect class="b" x="-.25" y="-.37" width=".5" height=".04"/><rect class="k" x="-.25" y="-.3" width=".5" height=".02"/>
<path class="e" d="M-.1 -.95H.1M0 -.95V-.65M-.1 -.65H.1"/></g>
<g transform="translate(30)">
<svg x="-.28" y="-2.0" width=".56" height=".7" viewBox="-26 -71.6 56 71.6" preserveAspectRatio="none"><text class="g">P</text></svg>
<svg x="-.28" y="-1.24" width=".56" height=".65" viewBox="-23 -71.6 50 71.6" preserveAspectRatio="none"><text class="k">L</text></svg>
<svg x="-.28" y="-.53" width=".56" height=".12" viewBox="-34 -74 68 76" preserveAspectRatio="none"><text class="k">C</text></svg>
<svg x="-.28" y="-.39" width=".56" height=".08" viewBox="-34 -71.6 68 71.6" preserveAspectRatio="none"><text class="k">V</text></svg>
<rect class="k" x="-.28" y="-.29" width=".56" height=".02"/>
<path class="e" d="M-.1 -2.3H.1M0 -2.3V-1.9M-.1 -1.9H.1"/></g>
<g transform="translate(31)">
<svg x="-.36" y="-1.0" width=".72" height=".2" viewBox="-34 -71.6 68 71.6" preserveAspectRatio="none"><text class="k">V</text></svg>
<svg x="-.36" y="-.78" width=".72" height=".13" viewBox="-29 -71.6 58 71.6" preserveAspectRatio="none"><text class="g">H</text></svg>
<rect class="k" x="-.36" y="-.6" width=".72" height=".03"/><rect class="k" x="-.36" y="-.53" width=".72" height=".03"/><rect class="k" x="-.36" y="-.45" width=".72" height=".03"/><rect class="k" x="-.36" y="-.38" width=".72" height=".02"/><rect class="b" x="-.36" y="-.33" width=".72" height=".02"/><rect class="g" x="-.36" y="-.27" width=".72" height=".02"/>
<path class="e" d="M-.1 -1.15H.1M0 -1.15V-.85M-.1 -.85H.1"/></g>
<g transform="translate(32)">
<svg x="-.38" y="-1.85" width=".76" height=".65" viewBox="-34 -71.6 68 71.6" preserveAspectRatio="none"><text class="k">V</text></svg>
<svg x="-.38" y="-1.15" width=".76" height=".6" viewBox="-23 -71.6 50 71.6" preserveAspectRatio="none"><text class="k">L</text></svg>
<svg x="-.38" y="-.5" width=".76" height=".2" viewBox="-19 -66.5 38 66.5" preserveAspectRatio="none"><text class="k s">I</text></svg>
<svg x="-.38" y="-.27" width=".76" height=".12" viewBox="-25 -71.6 52 71.6" preserveAspectRatio="none"><text class="k">F</text></svg>
<svg x="-.38" y="-.13" width=".76" height=".06" viewBox="-35 -71.6 70 71.6" preserveAspectRatio="none"><text class="k">M</text></svg>
<path class="e" d="M-.1 -2.05H.1M0 -2.05V-1.7M-.1 -1.7H.1"/></g>
<g transform="translate(33)">
<svg x="-.25" y="-.82" width=".5" height=".1" viewBox="-34 -71.6 68 71.6" preserveAspectRatio="none"><text class="b">K</text></svg>
<svg x="-.25" y="-.7" width=".5" height=".08" viewBox="-30 -71.6 60 71.6" preserveAspectRatio="none"><text class="g">T</text></svg>
<rect class="b" x="-.25" y="-.58" width=".5" height=".05"/><rect class="g" x="-.25" y="-.5" width=".5" height=".03"/><rect class="b" x="-.25" y="-.44" width=".5" height=".04"/><rect class="b" x="-.25" y="-.37" width=".5" height=".02"/>
<path class="e" d="M-.1 -.9H.1M0 -.9V-.68M-.1 -.68H.1"/></g>
<g transform="translate(34)">
<svg x="-.26" y="-1.6" width=".52" height=".4" viewBox="-23 -71.6 50 71.6" preserveAspectRatio="none"><text class="k">L</text></svg>
<svg x="-.26" y="-1.15" width=".52" height=".3" viewBox="-19 -66.5 38 66.5" preserveAspectRatio="none"><text class="k s">I</text></svg>
<svg x="-.26" y="-.78" width=".52" height=".27" viewBox="-25 -71.6 52 71.6" preserveAspectRatio="none"><text class="k">F</text></svg>
<svg x="-.26" y="-.47" width=".52" height=".14" viewBox="-34 -71.6 68 71.6" preserveAspectRatio="none"><text class="k">V</text></svg>
<svg x="-.26" y="-.31" width=".52" height=".13" viewBox="-36 -71.6 72 71.6" preserveAspectRatio="none"><text class="g">A</text></svg>
<svg x="-.26" y="-.16" width=".52" height=".09" viewBox="-47 -71.6 94 71.6" preserveAspectRatio="none"><text class="k">W</text></svg>
<path class="e" d="M-.1 -1.7H.1M0 -1.7V-1.4M-.1 -1.4H.1"/></g>
<g transform="translate(35)">
<svg x="-.3" y="-2.25" width=".6" height=".72" viewBox="-34 -74 68 76" preserveAspectRatio="none"><text class="k">C</text></svg>
<svg x="-.3" y="-1.5" width=".6" height=".5" viewBox="-25 -71.6 52 71.6" preserveAspectRatio="none"><text class="k">F</text></svg>
<svg x="-.3" y="-.97" width=".6" height=".38" viewBox="-32 -71.6 66 71.6" preserveAspectRatio="none"><text class="b">R</text></svg>
<svg x="-.3" y="-.56" width=".6" height=".2" viewBox="-34 -71.6 68 71.6" preserveAspectRatio="none"><text class="k">Y</text></svg>
<svg x="-.3" y="-.33" width=".6" height=".12" viewBox="-31 -74 62 76" preserveAspectRatio="none"><text class="g">S</text></svg>
<rect class="k" x="-.3" y="-.18" width=".2" height=".07"/><rect class="k" x="-.3" y="-.12" width=".6" height=".02"/>
<path class="e" d="M-.1 -2.5H.1M0 -2.5V-2.2M-.1 -2.2H.1"/></g>
<g transform="translate(36)">
<svg x="-.22" y="-1.2" width=".44" height=".3" viewBox="-31 -74 62 76" preserveAspectRatio="none"><text class="g">S</text></svg>
<svg x="-.22" y="-.88" width=".44" height=".3" viewBox="-32 -71.6 66 71.6" preserveAspectRatio="none"><text class="b">R</text></svg>
<svg x="-.22" y="-.55" width=".44" height=".1" viewBox="-35 -74 70 76" preserveAspectRatio="none"><text class="g">G</text></svg>
<svg x="-.22" y="-.43" width=".44" height=".1" viewBox="-34 -71.6 68 71.6" preserveAspectRatio="none"><text class="b">K</text></svg>
<svg x="-.22" y="-.31" width=".44" height=".1" viewBox="-26 -71.6 56 71.6" preserveAspectRatio="none"><text class="g">P</text></svg>
<rect class="b" x="-.22" y="-.19" width=".44" height=".02"/><rect class="g" x="-.22" y="-.15" width=".44" height=".02"/>
<path class="e" d="M-.1 -1.55H.1M0 -1.55V-1.25M-.1 -1.25H.1"/></g>
<g transform="translate(37)">
<svg x="-.09" y="-1.3" width=".18" height=".42" viewBox="-34 -71.6 68 71.6" preserveAspectRatio="none"><text class="b">K</text></svg>
<svg x="-.09" y="-.87" width=".18" height=".27" viewBox="-32 -71.6 66 71.6" preserveAspectRatio="none"><text class="b">R</text></svg>
<svg x="-.09" y="-.57" width=".18" height=".1" viewBox="-29 -71.6 58 71.6" preserveAspectRatio="none"><text class="g">H</text></svg>
<svg x="-.09" y="-.45" width=".18" height=".1" viewBox="-30 -71.6 60 71.6" preserveAspectRatio="none"><text class="g">T</text></svg>
<svg x="-.09" y="-.33" width=".18" height=".08" viewBox="-34 -71.6 68 71.6" preserveAspectRatio="none"><text class="k">V</text></svg>
<svg x="-.09" y="-.23" width=".18" height=".06" viewBox="-36 -71.6 72 71.6" preserveAspectRatio="none"><text class="g">A</text></svg>
<rect class="b" x="-.09" y="-.15" width=".18" height=".03"/>
<path class="e" d="M-.1 -1.7H.1M0 -1.7V-1.3M-.1 -1.3H.1"/></g>
</g>
</svg>
</body></html>
